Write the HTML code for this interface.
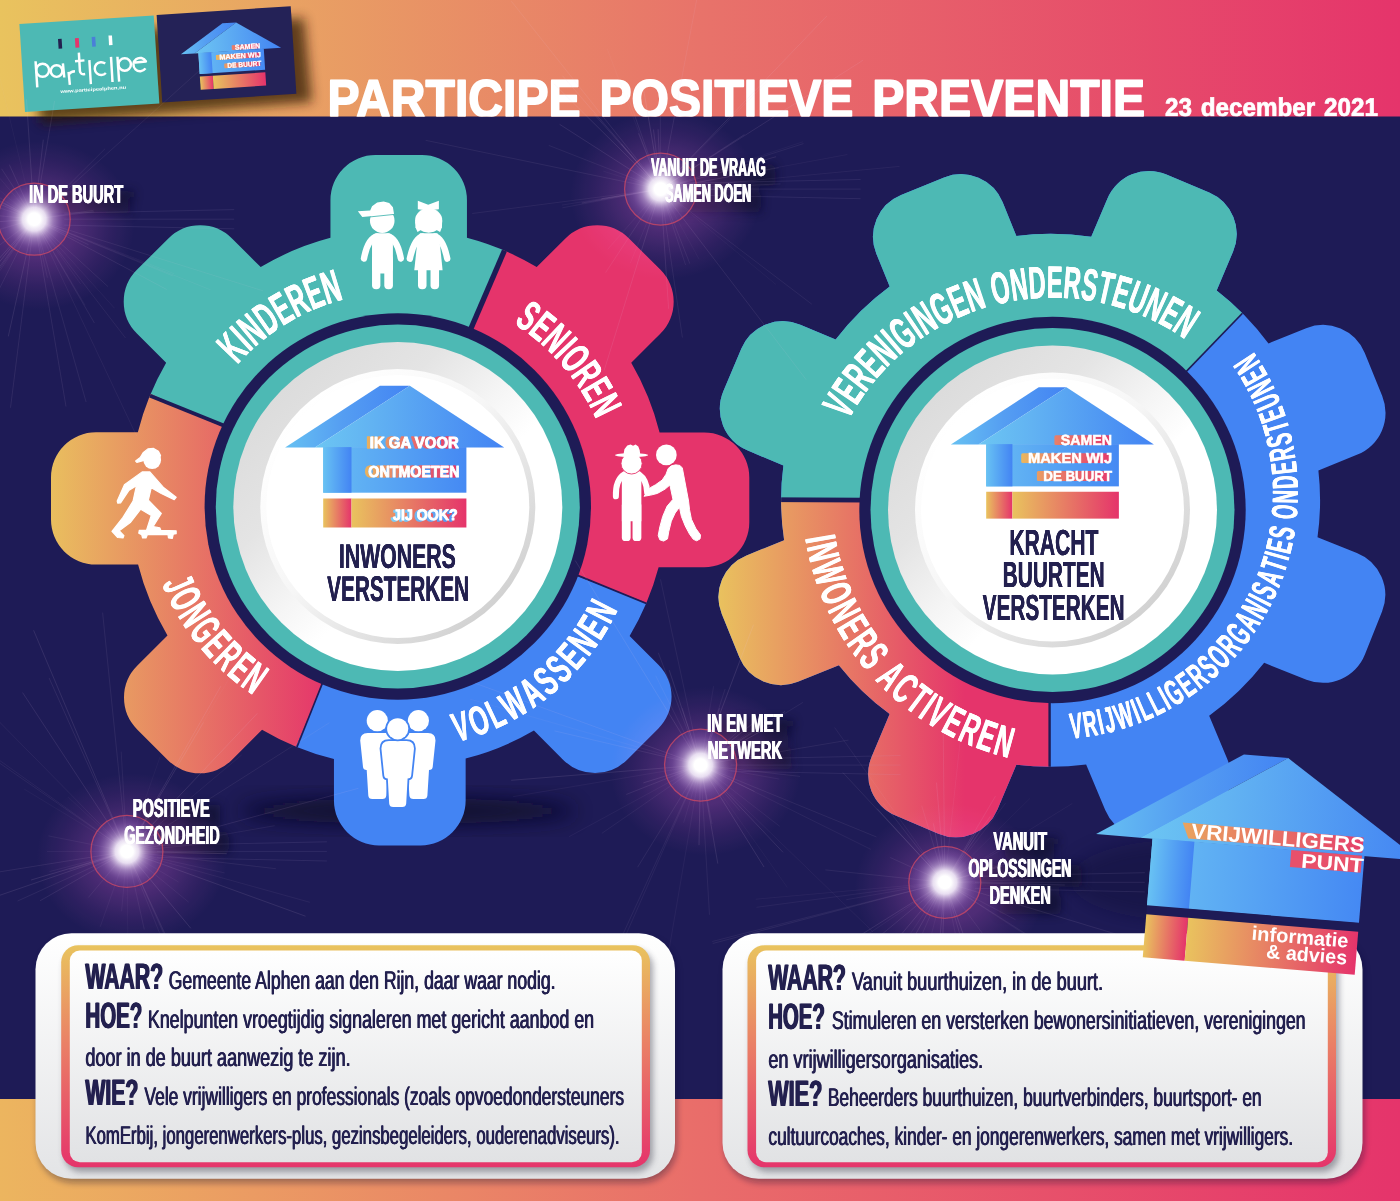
<!DOCTYPE html>
<html><head><meta charset="utf-8"><title>Participe Positieve Preventie</title>
<style>
html,body{margin:0;padding:0;background:#1e1b56;overflow:hidden;width:1400px;height:1201px;}
svg{display:block;font-family:"Liberation Sans",sans-serif;text-rendering:geometricPrecision;}
</style></head><body>
<svg width="1400" height="1201" viewBox="0 0 1400 1201">
<g opacity="0.999">
<defs>
<linearGradient id="gHead" x1="0" x2="1400" y1="0" y2="0" gradientUnits="userSpaceOnUse"><stop offset="0" stop-color="#e9c35e"/><stop offset="0.5" stop-color="#e8736a"/><stop offset="1" stop-color="#e5346b"/></linearGradient>
<linearGradient id="gYP" x1="0" x2="1" y1="0" y2="0"><stop offset="0" stop-color="#e9c35e"/><stop offset="1" stop-color="#e5346b"/></linearGradient>
<linearGradient id="gYPv" x1="0" x2="0" y1="0" y2="1"><stop offset="0" stop-color="#e9c35e"/><stop offset="0.45" stop-color="#ea7f66"/><stop offset="1" stop-color="#e5346b"/></linearGradient>
<linearGradient id="gSegL" x1="42" x2="328" y1="0" y2="0" gradientUnits="userSpaceOnUse"><stop offset="0" stop-color="#e9c35e"/><stop offset="1" stop-color="#e5346b"/></linearGradient>
<linearGradient id="gSegR" x1="716" x2="965" y1="0" y2="0" gradientUnits="userSpaceOnUse"><stop offset="0" stop-color="#e9c35e"/><stop offset="1" stop-color="#e5346b"/></linearGradient>
<linearGradient id="gBlue" x1="0" x2="1" y1="0" y2="0"><stop offset="0" stop-color="#6cc4f3"/><stop offset="1" stop-color="#4384f3"/></linearGradient>
<linearGradient id="gBlueB" x1="0" x2="1" y1="0" y2="0"><stop offset="0" stop-color="#66bdf3"/><stop offset="0.25" stop-color="#64b6f2"/><stop offset="1" stop-color="#4585f3"/></linearGradient>
<linearGradient id="gBev1" x1="0.15" y1="0.15" x2="0.85" y2="0.85"><stop offset="0" stop-color="#dcdcdc"/><stop offset="0.25" stop-color="#e4e4e4"/><stop offset="0.47" stop-color="#f5f5f5"/><stop offset="0.62" stop-color="#ffffff"/></linearGradient>
<linearGradient id="gBev2" x1="0.15" y1="0.15" x2="0.85" y2="0.85"><stop offset="0" stop-color="#ffffff"/><stop offset="0.45" stop-color="#f6f6f6"/><stop offset="1" stop-color="#d2d2d2"/></linearGradient>
<linearGradient id="gBoxO" x1="0" x2="0" y1="0" y2="1"><stop offset="0" stop-color="#ffffff"/><stop offset="1" stop-color="#e3e4e6"/></linearGradient>
<linearGradient id="gBoxI" x1="0" x2="0" y1="0" y2="1"><stop offset="0" stop-color="#ffffff"/><stop offset="1" stop-color="#e1e2e4"/></linearGradient>
<radialGradient id="gHaze"><stop offset="0" stop-color="#4a1a40" stop-opacity="1"/><stop offset="0.4" stop-color="#44183c" stop-opacity="0.8"/><stop offset="0.75" stop-color="#401536" stop-opacity="0.3"/><stop offset="1" stop-color="#401536" stop-opacity="0"/></radialGradient>
<radialGradient id="gGlow"><stop offset="0" stop-color="#fff" stop-opacity="1"/><stop offset="0.17" stop-color="#fff" stop-opacity="1"/><stop offset="0.32" stop-color="#f6effc" stop-opacity="0.9"/><stop offset="0.52" stop-color="#cdb3e4" stop-opacity="0.55"/><stop offset="0.78" stop-color="#9a70c4" stop-opacity="0.22"/><stop offset="1" stop-color="#8a60b8" stop-opacity="0"/></radialGradient>
<filter id="fBlur3" x="-50%" y="-50%" width="200%" height="200%"><feGaussianBlur stdDeviation="3"/></filter>
<filter id="fBlur6" x="-100%" y="-300%" width="300%" height="700%"><feGaussianBlur stdDeviation="6"/></filter>
<filter id="fBlur4" x="-50%" y="-150%" width="200%" height="400%"><feGaussianBlur stdDeviation="5"/></filter>
<filter id="fBlur10" x="-50%" y="-50%" width="200%" height="200%"><feGaussianBlur stdDeviation="10"/></filter>
<filter id="fBlur05" x="-20%" y="-20%" width="140%" height="140%"><feGaussianBlur stdDeviation="0.4"/></filter>
<clipPath id="clipL"><ellipse cx="398.7" cy="498.0" rx="269.0" ry="269.0"/>
<rect x="331.00" y="149.60" width="134.8" height="200.60" rx="45" ry="45" transform="rotate(90.00 398.7 500.2)"/>
<rect x="331.45" y="152.20" width="134.5" height="198.00" rx="45" ry="45" transform="rotate(45.00 398.7 500.2)"/>
<rect x="330.45" y="155.00" width="136.5" height="195.20" rx="45" ry="45" transform="rotate(0.00 398.7 500.2)"/>
<rect x="331.45" y="152.20" width="134.5" height="198.00" rx="45" ry="45" transform="rotate(-45.00 398.7 500.2)"/>
<rect x="334.30" y="152.50" width="132.3" height="197.70" rx="45" ry="45" transform="rotate(-90.00 398.7 500.2)"/>
<rect x="333.05" y="153.20" width="133.5" height="197.00" rx="45" ry="45" transform="rotate(-135.00 398.7 500.2)"/>
<rect x="331.75" y="155.00" width="131.7" height="195.20" rx="45" ry="45" transform="rotate(-180.00 398.7 500.2)"/>
<rect x="331.45" y="155.20" width="134.5" height="195.00" rx="45" ry="45" transform="rotate(-225.00 398.7 500.2)"/>
</clipPath>
<clipPath id="clipR"><ellipse cx="1050.6" cy="500.3" rx="269.5" ry="266.5"/>
<rect x="983.80" y="158.00" width="136.4" height="197.00" rx="45" ry="45" transform="rotate(67.90 1052.0 505.0)"/>
<rect x="983.80" y="156.00" width="136.4" height="199.00" rx="45" ry="45" transform="rotate(22.90 1052.0 505.0)"/>
<rect x="983.80" y="161.00" width="136.4" height="194.00" rx="45" ry="45" transform="rotate(-22.10 1052.0 505.0)"/>
<rect x="983.80" y="158.00" width="136.4" height="197.00" rx="45" ry="45" transform="rotate(-67.10 1052.0 505.0)"/>
<rect x="983.80" y="158.00" width="136.4" height="197.00" rx="45" ry="45" transform="rotate(-112.10 1052.0 505.0)"/>
<rect x="983.80" y="158.00" width="136.4" height="197.00" rx="45" ry="45" transform="rotate(-157.10 1052.0 505.0)"/>
<rect x="988.35" y="158.00" width="132.3" height="197.00" rx="45" ry="45" transform="rotate(-202.70 1052.0 505.0)"/>
<rect x="983.80" y="159.00" width="136.4" height="196.00" rx="45" ry="45" transform="rotate(-248.30 1052.0 505.0)"/>
</clipPath>
<linearGradient id="gFoot" x1="0" x2="1400" y1="0" y2="0" gradientUnits="userSpaceOnUse"><stop offset="0" stop-color="#ecb55f"/><stop offset="0.5" stop-color="#e96d6a"/><stop offset="1" stop-color="#e5346b"/></linearGradient>
</defs>
<rect x="0" y="0" width="1400" height="1201" fill="#1e1b56"/>
<rect x="0" y="0" width="1400" height="116.5" fill="url(#gHead)"/>
<rect x="0" y="1099" width="1400" height="102" fill="url(#gFoot)"/>
<clipPath id="clipHead"><rect x="0" y="0" width="1400" height="116.5"/></clipPath>
<g clip-path="url(#clipHead)">
<text x="327.50" y="116.60" font-size="53.20" font-weight="bold" fill="#fff" textLength="817.50" lengthAdjust="spacingAndGlyphs" stroke="#fff" stroke-width="1.7" stroke-linejoin="round" style="word-spacing:6px">PARTICIPE POSITIEVE PREVENTIE</text>
<text x="1165.10" y="116.40" font-size="25.58" font-weight="bold" fill="#fff" textLength="212.80" lengthAdjust="spacingAndGlyphs" stroke="#fff" stroke-width="0.7" style="word-spacing:2px">23 december 2021</text>
</g>
<g filter="url(#fBlur6)" opacity="0.72"><polygon points="34,38 304,18 312,102 40,124" fill="#2a1206"/></g>
<g transform="translate(19.4,24) rotate(-3.65)">
<rect x="0" y="0" width="134.6" height="88.2" fill="#4db9b4"/>
<text x="36.5" y="71.5" font-size="4.6" fill="#fff" font-weight="bold" textLength="66" lengthAdjust="spacingAndGlyphs">www.participealphen.nu</text>
</g>
<g transform="translate(15,10) scale(0.107143)" fill="none" stroke="#fff" stroke-width="23" stroke-linecap="butt" stroke-linejoin="round">
<rect x="404" y="270" width="34" height="90" fill="#23204f" stroke="none" transform="rotate(-3.6 421 315)"/>
<rect x="562" y="262" width="36" height="90" fill="#e5346b" stroke="none" transform="rotate(-3.6 580 307)"/>
<rect x="718" y="251" width="34" height="90" fill="#4a7fd8" stroke="none" transform="rotate(-3.6 735 296)"/>
<rect x="875" y="238" width="33" height="90" fill="#ffffff" stroke="none" transform="rotate(-3.6 891 283)"/>
<path d="M192,478 L208,722"/>
<circle cx="258" cy="562" r="60"/>
<circle cx="388" cy="570" r="54"/>
<path d="M447,498 L460,630"/>
<path d="M500,578 L512,698"/>
<path d="M503,600 Q520,575 560,572"/>
<path d="M596,398 L606,570 Q610,605 655,598"/>
<path d="M560,478 L648,470"/>
<path d="M694,468 L708,692"/>
<path d="M842,500 A60,60 0 1 0 848,588"/>
<path d="M896,438 L910,672"/>
<path d="M956,436 L972,668"/>
<circle cx="1024" cy="508" r="58"/>
<path d="M1100,492 L1222,480 A62,62 0 1 0 1218,545"/>
</g>
<g transform="translate(156.6,14.9) rotate(-3.7)">
<rect x="0" y="0" width="134.4" height="87.8" fill="#242257"/>
</g>
<ellipse cx="408" cy="811" rx="168" ry="13" fill="#0a0828" opacity="0.85" filter="url(#fBlur10)"/>
<ellipse cx="1180" cy="880" rx="110" ry="40" fill="#0e0b30" opacity="0.35" filter="url(#fBlur10)"/>
<g clip-path="url(#clipL)">
<path d="M397.80,506.50 L557.38,118.00 A420,420 0 0 0 15.62,332.33 Z" fill="#4db9b4"/>
<path d="M397.80,506.50 L15.62,332.33 A420,420 0 0 0 234.03,893.26 Z" fill="url(#gSegL)"/>
<path d="M397.80,506.50 L234.03,893.26 A420,420 0 0 0 789.51,658.04 Z" fill="#4384f3"/>
<path d="M397.80,506.50 L789.51,658.04 A420,420 0 0 0 557.38,118.00 Z" fill="#e5346b"/>
<line x1="423.6" y1="438.6" x2="542.1" y2="163.0" stroke="#1e1b56" stroke-width="5.3"/>
<line x1="131.5" y1="388.2" x2="237.4" y2="431.1" stroke="#1e1b56" stroke-width="3.8"/>
<line x1="325.2" y1="676.1" x2="285.0" y2="777.2" stroke="#1e1b56" stroke-width="1.6"/>
<line x1="571.5" y1="572.8" x2="666.0" y2="611.5" stroke="#1e1b56" stroke-width="1.8"/>
</g>
<circle cx="397.8" cy="506.5" r="193.2" fill="#1e1b56"/>
<circle cx="397.8" cy="506.5" r="182" fill="#4db9b4"/>
<circle cx="397.8" cy="506.5" r="164.5" fill="url(#gBev1)"/>
<circle cx="397.8" cy="506.5" r="137.5" fill="url(#gBev2)"/>
<circle cx="397.8" cy="506.5" r="131.5" fill="#ffffff"/>
<g clip-path="url(#clipR)">
<rect x="600" y="0" width="900" height="1000" fill="#4384f3"/>
<polygon points="1049.6,499.7 600,499.7 600,0 1413.7,0 1413.7,135.9 1052.5,510.0" fill="#4db9b4"/>
<polygon points="1049.6,499.7 600,499.7 600,1000 1049.6,1000" fill="url(#gSegR)"/>
<line x1="1156.70" y1="402.10" x2="1344.26" y2="207.88" stroke="#1e1b56" stroke-width="1.6"/>
<line x1="700" y1="499.4" x2="1052.5" y2="501.0" stroke="#1e1b56" stroke-width="4.8"/>
<line x1="1049.6" y1="510.0" x2="1049.6" y2="900" stroke="#1e1b56" stroke-width="2.4"/>
</g>
<circle cx="1052.5" cy="510.0" r="193.2" fill="#1e1b56"/>
<circle cx="1052.5" cy="510.0" r="182" fill="#4db9b4"/>
<circle cx="1052.5" cy="510.0" r="164.5" fill="url(#gBev1)"/>
<circle cx="1052.5" cy="510.0" r="137.5" fill="url(#gBev2)"/>
<circle cx="1052.5" cy="510.0" r="131.5" fill="#ffffff"/>
<text transform="translate(243.17,358.56) rotate(-46.27) scale(0.5262,1)" x="-0.57" font-size="45.78" font-weight="bold" text-anchor="middle" fill="#fff">K</text>
<text transform="translate(243.17,358.56) rotate(-46.27) scale(0.5262,1)" x="0.00" font-size="45.78" font-weight="bold" text-anchor="middle" fill="#fff">K</text>
<text transform="translate(243.17,358.56) rotate(-46.27) scale(0.5262,1)" x="0.57" font-size="45.78" font-weight="bold" text-anchor="middle" fill="#fff">K</text>
<text transform="translate(252.03,349.82) rotate(-42.93) scale(0.5262,1)" x="-0.57" font-size="45.78" font-weight="bold" text-anchor="middle" fill="#fff">I</text>
<text transform="translate(252.03,349.82) rotate(-42.93) scale(0.5262,1)" x="0.00" font-size="45.78" font-weight="bold" text-anchor="middle" fill="#fff">I</text>
<text transform="translate(252.03,349.82) rotate(-42.93) scale(0.5262,1)" x="0.57" font-size="45.78" font-weight="bold" text-anchor="middle" fill="#fff">I</text>
<text transform="translate(261.38,341.62) rotate(-39.60) scale(0.5262,1)" x="-0.57" font-size="45.78" font-weight="bold" text-anchor="middle" fill="#fff">N</text>
<text transform="translate(261.38,341.62) rotate(-39.60) scale(0.5262,1)" x="0.00" font-size="45.78" font-weight="bold" text-anchor="middle" fill="#fff">N</text>
<text transform="translate(261.38,341.62) rotate(-39.60) scale(0.5262,1)" x="0.57" font-size="45.78" font-weight="bold" text-anchor="middle" fill="#fff">N</text>
<text transform="translate(275.25,331.07) rotate(-34.94) scale(0.5262,1)" x="-0.57" font-size="45.78" font-weight="bold" text-anchor="middle" fill="#fff">D</text>
<text transform="translate(275.25,331.07) rotate(-34.94) scale(0.5262,1)" x="0.00" font-size="45.78" font-weight="bold" text-anchor="middle" fill="#fff">D</text>
<text transform="translate(275.25,331.07) rotate(-34.94) scale(0.5262,1)" x="0.57" font-size="45.78" font-weight="bold" text-anchor="middle" fill="#fff">D</text>
<text transform="translate(289.39,321.99) rotate(-30.44) scale(0.5262,1)" x="-0.57" font-size="45.78" font-weight="bold" text-anchor="middle" fill="#fff">E</text>
<text transform="translate(289.39,321.99) rotate(-30.44) scale(0.5262,1)" x="0.00" font-size="45.78" font-weight="bold" text-anchor="middle" fill="#fff">E</text>
<text transform="translate(289.39,321.99) rotate(-30.44) scale(0.5262,1)" x="0.57" font-size="45.78" font-weight="bold" text-anchor="middle" fill="#fff">E</text>
<text transform="translate(304.21,314.05) rotate(-25.93) scale(0.5262,1)" x="-0.57" font-size="45.78" font-weight="bold" text-anchor="middle" fill="#fff">R</text>
<text transform="translate(304.21,314.05) rotate(-25.93) scale(0.5262,1)" x="0.00" font-size="45.78" font-weight="bold" text-anchor="middle" fill="#fff">R</text>
<text transform="translate(304.21,314.05) rotate(-25.93) scale(0.5262,1)" x="0.57" font-size="45.78" font-weight="bold" text-anchor="middle" fill="#fff">R</text>
<text transform="translate(319.60,307.30) rotate(-21.43) scale(0.5262,1)" x="-0.57" font-size="45.78" font-weight="bold" text-anchor="middle" fill="#fff">E</text>
<text transform="translate(319.60,307.30) rotate(-21.43) scale(0.5262,1)" x="0.00" font-size="45.78" font-weight="bold" text-anchor="middle" fill="#fff">E</text>
<text transform="translate(319.60,307.30) rotate(-21.43) scale(0.5262,1)" x="0.57" font-size="45.78" font-weight="bold" text-anchor="middle" fill="#fff">E</text>
<text transform="translate(335.47,301.78) rotate(-16.93) scale(0.5262,1)" x="-0.57" font-size="45.78" font-weight="bold" text-anchor="middle" fill="#fff">N</text>
<text transform="translate(335.47,301.78) rotate(-16.93) scale(0.5262,1)" x="0.00" font-size="45.78" font-weight="bold" text-anchor="middle" fill="#fff">N</text>
<text transform="translate(335.47,301.78) rotate(-16.93) scale(0.5262,1)" x="0.57" font-size="45.78" font-weight="bold" text-anchor="middle" fill="#fff">N</text>
<text transform="translate(520.32,328.01) rotate(34.47) scale(0.5625,1)" x="-0.53" font-size="42.88" font-weight="bold" text-anchor="middle" fill="#fff">S</text>
<text transform="translate(520.32,328.01) rotate(34.47) scale(0.5625,1)" x="0.00" font-size="42.88" font-weight="bold" text-anchor="middle" fill="#fff">S</text>
<text transform="translate(520.32,328.01) rotate(34.47) scale(0.5625,1)" x="0.53" font-size="42.88" font-weight="bold" text-anchor="middle" fill="#fff">S</text>
<text transform="translate(533.46,337.78) rotate(38.80) scale(0.5625,1)" x="-0.53" font-size="42.88" font-weight="bold" text-anchor="middle" fill="#fff">E</text>
<text transform="translate(533.46,337.78) rotate(38.80) scale(0.5625,1)" x="0.00" font-size="42.88" font-weight="bold" text-anchor="middle" fill="#fff">E</text>
<text transform="translate(533.46,337.78) rotate(38.80) scale(0.5625,1)" x="0.53" font-size="42.88" font-weight="bold" text-anchor="middle" fill="#fff">E</text>
<text transform="translate(546.28,348.94) rotate(43.30) scale(0.5625,1)" x="-0.53" font-size="42.88" font-weight="bold" text-anchor="middle" fill="#fff">N</text>
<text transform="translate(546.28,348.94) rotate(43.30) scale(0.5625,1)" x="0.00" font-size="42.88" font-weight="bold" text-anchor="middle" fill="#fff">N</text>
<text transform="translate(546.28,348.94) rotate(43.30) scale(0.5625,1)" x="0.53" font-size="42.88" font-weight="bold" text-anchor="middle" fill="#fff">N</text>
<text transform="translate(555.20,357.85) rotate(46.64) scale(0.5625,1)" x="-0.53" font-size="42.88" font-weight="bold" text-anchor="middle" fill="#fff">I</text>
<text transform="translate(555.20,357.85) rotate(46.64) scale(0.5625,1)" x="0.00" font-size="42.88" font-weight="bold" text-anchor="middle" fill="#fff">I</text>
<text transform="translate(555.20,357.85) rotate(46.64) scale(0.5625,1)" x="0.53" font-size="42.88" font-weight="bold" text-anchor="middle" fill="#fff">I</text>
<text transform="translate(563.99,367.74) rotate(50.14) scale(0.5625,1)" x="-0.53" font-size="42.88" font-weight="bold" text-anchor="middle" fill="#fff">O</text>
<text transform="translate(563.99,367.74) rotate(50.14) scale(0.5625,1)" x="0.00" font-size="42.88" font-weight="bold" text-anchor="middle" fill="#fff">O</text>
<text transform="translate(563.99,367.74) rotate(50.14) scale(0.5625,1)" x="0.53" font-size="42.88" font-weight="bold" text-anchor="middle" fill="#fff">O</text>
<text transform="translate(575.08,382.23) rotate(54.97) scale(0.5625,1)" x="-0.53" font-size="42.88" font-weight="bold" text-anchor="middle" fill="#fff">R</text>
<text transform="translate(575.08,382.23) rotate(54.97) scale(0.5625,1)" x="0.00" font-size="42.88" font-weight="bold" text-anchor="middle" fill="#fff">R</text>
<text transform="translate(575.08,382.23) rotate(54.97) scale(0.5625,1)" x="0.53" font-size="42.88" font-weight="bold" text-anchor="middle" fill="#fff">R</text>
<text transform="translate(584.28,396.52) rotate(59.47) scale(0.5625,1)" x="-0.53" font-size="42.88" font-weight="bold" text-anchor="middle" fill="#fff">E</text>
<text transform="translate(584.28,396.52) rotate(59.47) scale(0.5625,1)" x="0.00" font-size="42.88" font-weight="bold" text-anchor="middle" fill="#fff">E</text>
<text transform="translate(584.28,396.52) rotate(59.47) scale(0.5625,1)" x="0.53" font-size="42.88" font-weight="bold" text-anchor="middle" fill="#fff">E</text>
<text transform="translate(592.34,411.48) rotate(63.97) scale(0.5625,1)" x="-0.53" font-size="42.88" font-weight="bold" text-anchor="middle" fill="#fff">N</text>
<text transform="translate(592.34,411.48) rotate(63.97) scale(0.5625,1)" x="0.00" font-size="42.88" font-weight="bold" text-anchor="middle" fill="#fff">N</text>
<text transform="translate(592.34,411.48) rotate(63.97) scale(0.5625,1)" x="0.53" font-size="42.88" font-weight="bold" text-anchor="middle" fill="#fff">N</text>
<text transform="translate(164.34,589.82) rotate(66.24) scale(0.5172,1)" x="-0.58" font-size="44.33" font-weight="bold" text-anchor="middle" fill="#fff">J</text>
<text transform="translate(164.34,589.82) rotate(66.24) scale(0.5172,1)" x="0.00" font-size="44.33" font-weight="bold" text-anchor="middle" fill="#fff">J</text>
<text transform="translate(164.34,589.82) rotate(66.24) scale(0.5172,1)" x="0.58" font-size="44.33" font-weight="bold" text-anchor="middle" fill="#fff">J</text>
<text transform="translate(172.06,605.74) rotate(62.07) scale(0.5172,1)" x="-0.58" font-size="44.33" font-weight="bold" text-anchor="middle" fill="#fff">O</text>
<text transform="translate(172.06,605.74) rotate(62.07) scale(0.5172,1)" x="0.00" font-size="44.33" font-weight="bold" text-anchor="middle" fill="#fff">O</text>
<text transform="translate(172.06,605.74) rotate(62.07) scale(0.5172,1)" x="0.58" font-size="44.33" font-weight="bold" text-anchor="middle" fill="#fff">O</text>
<text transform="translate(181.99,622.78) rotate(57.43) scale(0.5172,1)" x="-0.58" font-size="44.33" font-weight="bold" text-anchor="middle" fill="#fff">N</text>
<text transform="translate(181.99,622.78) rotate(57.43) scale(0.5172,1)" x="0.00" font-size="44.33" font-weight="bold" text-anchor="middle" fill="#fff">N</text>
<text transform="translate(181.99,622.78) rotate(57.43) scale(0.5172,1)" x="0.58" font-size="44.33" font-weight="bold" text-anchor="middle" fill="#fff">N</text>
<text transform="translate(193.27,638.95) rotate(52.79) scale(0.5172,1)" x="-0.58" font-size="44.33" font-weight="bold" text-anchor="middle" fill="#fff">G</text>
<text transform="translate(193.27,638.95) rotate(52.79) scale(0.5172,1)" x="0.00" font-size="44.33" font-weight="bold" text-anchor="middle" fill="#fff">G</text>
<text transform="translate(193.27,638.95) rotate(52.79) scale(0.5172,1)" x="0.58" font-size="44.33" font-weight="bold" text-anchor="middle" fill="#fff">G</text>
<text transform="translate(205.37,653.66) rotate(48.31) scale(0.5172,1)" x="-0.58" font-size="44.33" font-weight="bold" text-anchor="middle" fill="#fff">E</text>
<text transform="translate(205.37,653.66) rotate(48.31) scale(0.5172,1)" x="0.00" font-size="44.33" font-weight="bold" text-anchor="middle" fill="#fff">E</text>
<text transform="translate(205.37,653.66) rotate(48.31) scale(0.5172,1)" x="0.58" font-size="44.33" font-weight="bold" text-anchor="middle" fill="#fff">E</text>
<text transform="translate(218.09,666.90) rotate(43.99) scale(0.5172,1)" x="-0.58" font-size="44.33" font-weight="bold" text-anchor="middle" fill="#fff">R</text>
<text transform="translate(218.09,666.90) rotate(43.99) scale(0.5172,1)" x="0.00" font-size="44.33" font-weight="bold" text-anchor="middle" fill="#fff">R</text>
<text transform="translate(218.09,666.90) rotate(43.99) scale(0.5172,1)" x="0.58" font-size="44.33" font-weight="bold" text-anchor="middle" fill="#fff">R</text>
<text transform="translate(231.78,679.15) rotate(39.66) scale(0.5172,1)" x="-0.58" font-size="44.33" font-weight="bold" text-anchor="middle" fill="#fff">E</text>
<text transform="translate(231.78,679.15) rotate(39.66) scale(0.5172,1)" x="0.00" font-size="44.33" font-weight="bold" text-anchor="middle" fill="#fff">E</text>
<text transform="translate(231.78,679.15) rotate(39.66) scale(0.5172,1)" x="0.58" font-size="44.33" font-weight="bold" text-anchor="middle" fill="#fff">E</text>
<text transform="translate(246.35,690.33) rotate(35.34) scale(0.5172,1)" x="-0.58" font-size="44.33" font-weight="bold" text-anchor="middle" fill="#fff">N</text>
<text transform="translate(246.35,690.33) rotate(35.34) scale(0.5172,1)" x="0.00" font-size="44.33" font-weight="bold" text-anchor="middle" fill="#fff">N</text>
<text transform="translate(246.35,690.33) rotate(35.34) scale(0.5172,1)" x="0.58" font-size="44.33" font-weight="bold" text-anchor="middle" fill="#fff">N</text>
<text transform="translate(464.78,740.09) rotate(-16.00) scale(0.5830,1)" x="-0.51" font-size="41.42" font-weight="bold" text-anchor="middle" fill="#fff">V</text>
<text transform="translate(464.78,740.09) rotate(-16.00) scale(0.5830,1)" x="0.00" font-size="41.42" font-weight="bold" text-anchor="middle" fill="#fff">V</text>
<text transform="translate(464.78,740.09) rotate(-16.00) scale(0.5830,1)" x="0.51" font-size="41.42" font-weight="bold" text-anchor="middle" fill="#fff">V</text>
<text transform="translate(483.83,733.76) rotate(-20.73) scale(0.5830,1)" x="-0.51" font-size="41.42" font-weight="bold" text-anchor="middle" fill="#fff">O</text>
<text transform="translate(483.83,733.76) rotate(-20.73) scale(0.5830,1)" x="0.00" font-size="41.42" font-weight="bold" text-anchor="middle" fill="#fff">O</text>
<text transform="translate(483.83,733.76) rotate(-20.73) scale(0.5830,1)" x="0.51" font-size="41.42" font-weight="bold" text-anchor="middle" fill="#fff">O</text>
<text transform="translate(501.64,726.19) rotate(-25.30) scale(0.5830,1)" x="-0.51" font-size="41.42" font-weight="bold" text-anchor="middle" fill="#fff">L</text>
<text transform="translate(501.64,726.19) rotate(-25.30) scale(0.5830,1)" x="0.00" font-size="41.42" font-weight="bold" text-anchor="middle" fill="#fff">L</text>
<text transform="translate(501.64,726.19) rotate(-25.30) scale(0.5830,1)" x="0.51" font-size="41.42" font-weight="bold" text-anchor="middle" fill="#fff">L</text>
<text transform="translate(520.64,716.16) rotate(-30.37) scale(0.5830,1)" x="-0.51" font-size="41.42" font-weight="bold" text-anchor="middle" fill="#fff">W</text>
<text transform="translate(520.64,716.16) rotate(-30.37) scale(0.5830,1)" x="0.00" font-size="41.42" font-weight="bold" text-anchor="middle" fill="#fff">W</text>
<text transform="translate(520.64,716.16) rotate(-30.37) scale(0.5830,1)" x="0.51" font-size="41.42" font-weight="bold" text-anchor="middle" fill="#fff">W</text>
<text transform="translate(539.84,703.66) rotate(-35.77) scale(0.5830,1)" x="-0.51" font-size="41.42" font-weight="bold" text-anchor="middle" fill="#fff">A</text>
<text transform="translate(539.84,703.66) rotate(-35.77) scale(0.5830,1)" x="0.00" font-size="41.42" font-weight="bold" text-anchor="middle" fill="#fff">A</text>
<text transform="translate(539.84,703.66) rotate(-35.77) scale(0.5830,1)" x="0.51" font-size="41.42" font-weight="bold" text-anchor="middle" fill="#fff">A</text>
<text transform="translate(555.09,691.73) rotate(-40.34) scale(0.5830,1)" x="-0.51" font-size="41.42" font-weight="bold" text-anchor="middle" fill="#fff">S</text>
<text transform="translate(555.09,691.73) rotate(-40.34) scale(0.5830,1)" x="0.00" font-size="41.42" font-weight="bold" text-anchor="middle" fill="#fff">S</text>
<text transform="translate(555.09,691.73) rotate(-40.34) scale(0.5830,1)" x="0.51" font-size="41.42" font-weight="bold" text-anchor="middle" fill="#fff">S</text>
<text transform="translate(568.83,679.12) rotate(-44.74) scale(0.5830,1)" x="-0.51" font-size="41.42" font-weight="bold" text-anchor="middle" fill="#fff">S</text>
<text transform="translate(568.83,679.12) rotate(-44.74) scale(0.5830,1)" x="0.00" font-size="41.42" font-weight="bold" text-anchor="middle" fill="#fff">S</text>
<text transform="translate(568.83,679.12) rotate(-44.74) scale(0.5830,1)" x="0.51" font-size="41.42" font-weight="bold" text-anchor="middle" fill="#fff">S</text>
<text transform="translate(581.57,665.49) rotate(-49.13) scale(0.5830,1)" x="-0.51" font-size="41.42" font-weight="bold" text-anchor="middle" fill="#fff">E</text>
<text transform="translate(581.57,665.49) rotate(-49.13) scale(0.5830,1)" x="0.00" font-size="41.42" font-weight="bold" text-anchor="middle" fill="#fff">E</text>
<text transform="translate(581.57,665.49) rotate(-49.13) scale(0.5830,1)" x="0.51" font-size="41.42" font-weight="bold" text-anchor="middle" fill="#fff">E</text>
<text transform="translate(593.64,650.36) rotate(-53.70) scale(0.5830,1)" x="-0.51" font-size="41.42" font-weight="bold" text-anchor="middle" fill="#fff">N</text>
<text transform="translate(593.64,650.36) rotate(-53.70) scale(0.5830,1)" x="0.00" font-size="41.42" font-weight="bold" text-anchor="middle" fill="#fff">N</text>
<text transform="translate(593.64,650.36) rotate(-53.70) scale(0.5830,1)" x="0.51" font-size="41.42" font-weight="bold" text-anchor="middle" fill="#fff">N</text>
<text transform="translate(604.47,634.31) rotate(-58.27) scale(0.5830,1)" x="-0.51" font-size="41.42" font-weight="bold" text-anchor="middle" fill="#fff">E</text>
<text transform="translate(604.47,634.31) rotate(-58.27) scale(0.5830,1)" x="0.00" font-size="41.42" font-weight="bold" text-anchor="middle" fill="#fff">E</text>
<text transform="translate(604.47,634.31) rotate(-58.27) scale(0.5830,1)" x="0.51" font-size="41.42" font-weight="bold" text-anchor="middle" fill="#fff">E</text>
<text transform="translate(613.99,617.45) rotate(-62.83) scale(0.5830,1)" x="-0.51" font-size="41.42" font-weight="bold" text-anchor="middle" fill="#fff">N</text>
<text transform="translate(613.99,617.45) rotate(-62.83) scale(0.5830,1)" x="0.00" font-size="41.42" font-weight="bold" text-anchor="middle" fill="#fff">N</text>
<text transform="translate(613.99,617.45) rotate(-62.83) scale(0.5830,1)" x="0.51" font-size="41.42" font-weight="bold" text-anchor="middle" fill="#fff">N</text>
<text transform="translate(852.33,413.38) rotate(-60.02) scale(0.5201,1)" x="-0.58" font-size="45.35" font-weight="bold" text-anchor="middle" fill="#fff">V</text>
<text transform="translate(852.33,413.38) rotate(-60.02) scale(0.5201,1)" x="0.00" font-size="45.35" font-weight="bold" text-anchor="middle" fill="#fff">V</text>
<text transform="translate(852.33,413.38) rotate(-60.02) scale(0.5201,1)" x="0.58" font-size="45.35" font-weight="bold" text-anchor="middle" fill="#fff">V</text>
<text transform="translate(860.77,399.84) rotate(-56.07) scale(0.5201,1)" x="-0.58" font-size="45.35" font-weight="bold" text-anchor="middle" fill="#fff">E</text>
<text transform="translate(860.77,399.84) rotate(-56.07) scale(0.5201,1)" x="0.00" font-size="45.35" font-weight="bold" text-anchor="middle" fill="#fff">E</text>
<text transform="translate(860.77,399.84) rotate(-56.07) scale(0.5201,1)" x="0.58" font-size="45.35" font-weight="bold" text-anchor="middle" fill="#fff">E</text>
<text transform="translate(870.50,386.44) rotate(-51.96) scale(0.5201,1)" x="-0.58" font-size="45.35" font-weight="bold" text-anchor="middle" fill="#fff">R</text>
<text transform="translate(870.50,386.44) rotate(-51.96) scale(0.5201,1)" x="0.00" font-size="45.35" font-weight="bold" text-anchor="middle" fill="#fff">R</text>
<text transform="translate(870.50,386.44) rotate(-51.96) scale(0.5201,1)" x="0.58" font-size="45.35" font-weight="bold" text-anchor="middle" fill="#fff">R</text>
<text transform="translate(881.17,373.77) rotate(-47.86) scale(0.5201,1)" x="-0.58" font-size="45.35" font-weight="bold" text-anchor="middle" fill="#fff">E</text>
<text transform="translate(881.17,373.77) rotate(-47.86) scale(0.5201,1)" x="0.00" font-size="45.35" font-weight="bold" text-anchor="middle" fill="#fff">E</text>
<text transform="translate(881.17,373.77) rotate(-47.86) scale(0.5201,1)" x="0.58" font-size="45.35" font-weight="bold" text-anchor="middle" fill="#fff">E</text>
<text transform="translate(892.72,361.90) rotate(-43.75) scale(0.5201,1)" x="-0.58" font-size="45.35" font-weight="bold" text-anchor="middle" fill="#fff">N</text>
<text transform="translate(892.72,361.90) rotate(-43.75) scale(0.5201,1)" x="0.00" font-size="45.35" font-weight="bold" text-anchor="middle" fill="#fff">N</text>
<text transform="translate(892.72,361.90) rotate(-43.75) scale(0.5201,1)" x="0.58" font-size="45.35" font-weight="bold" text-anchor="middle" fill="#fff">N</text>
<text transform="translate(901.80,353.65) rotate(-40.71) scale(0.5201,1)" x="-0.58" font-size="45.35" font-weight="bold" text-anchor="middle" fill="#fff">I</text>
<text transform="translate(901.80,353.65) rotate(-40.71) scale(0.5201,1)" x="0.00" font-size="45.35" font-weight="bold" text-anchor="middle" fill="#fff">I</text>
<text transform="translate(901.80,353.65) rotate(-40.71) scale(0.5201,1)" x="0.58" font-size="45.35" font-weight="bold" text-anchor="middle" fill="#fff">I</text>
<text transform="translate(911.79,345.53) rotate(-37.52) scale(0.5201,1)" x="-0.58" font-size="45.35" font-weight="bold" text-anchor="middle" fill="#fff">G</text>
<text transform="translate(911.79,345.53) rotate(-37.52) scale(0.5201,1)" x="0.00" font-size="45.35" font-weight="bold" text-anchor="middle" fill="#fff">G</text>
<text transform="translate(911.79,345.53) rotate(-37.52) scale(0.5201,1)" x="0.58" font-size="45.35" font-weight="bold" text-anchor="middle" fill="#fff">G</text>
<text transform="translate(922.22,337.97) rotate(-34.33) scale(0.5201,1)" x="-0.58" font-size="45.35" font-weight="bold" text-anchor="middle" fill="#fff">I</text>
<text transform="translate(922.22,337.97) rotate(-34.33) scale(0.5201,1)" x="0.00" font-size="45.35" font-weight="bold" text-anchor="middle" fill="#fff">I</text>
<text transform="translate(922.22,337.97) rotate(-34.33) scale(0.5201,1)" x="0.58" font-size="45.35" font-weight="bold" text-anchor="middle" fill="#fff">I</text>
<text transform="translate(932.53,331.32) rotate(-31.29) scale(0.5201,1)" x="-0.58" font-size="45.35" font-weight="bold" text-anchor="middle" fill="#fff">N</text>
<text transform="translate(932.53,331.32) rotate(-31.29) scale(0.5201,1)" x="0.00" font-size="45.35" font-weight="bold" text-anchor="middle" fill="#fff">N</text>
<text transform="translate(932.53,331.32) rotate(-31.29) scale(0.5201,1)" x="0.58" font-size="45.35" font-weight="bold" text-anchor="middle" fill="#fff">N</text>
<text transform="translate(948.07,322.68) rotate(-26.88) scale(0.5201,1)" x="-0.58" font-size="45.35" font-weight="bold" text-anchor="middle" fill="#fff">G</text>
<text transform="translate(948.07,322.68) rotate(-26.88) scale(0.5201,1)" x="0.00" font-size="45.35" font-weight="bold" text-anchor="middle" fill="#fff">G</text>
<text transform="translate(948.07,322.68) rotate(-26.88) scale(0.5201,1)" x="0.58" font-size="45.35" font-weight="bold" text-anchor="middle" fill="#fff">G</text>
<text transform="translate(963.67,315.49) rotate(-22.62) scale(0.5201,1)" x="-0.58" font-size="45.35" font-weight="bold" text-anchor="middle" fill="#fff">E</text>
<text transform="translate(963.67,315.49) rotate(-22.62) scale(0.5201,1)" x="0.00" font-size="45.35" font-weight="bold" text-anchor="middle" fill="#fff">E</text>
<text transform="translate(963.67,315.49) rotate(-22.62) scale(0.5201,1)" x="0.58" font-size="45.35" font-weight="bold" text-anchor="middle" fill="#fff">E</text>
<text transform="translate(979.18,309.67) rotate(-18.52) scale(0.5201,1)" x="-0.58" font-size="45.35" font-weight="bold" text-anchor="middle" fill="#fff">N</text>
<text transform="translate(979.18,309.67) rotate(-18.52) scale(0.5201,1)" x="0.00" font-size="45.35" font-weight="bold" text-anchor="middle" fill="#fff">N</text>
<text transform="translate(979.18,309.67) rotate(-18.52) scale(0.5201,1)" x="0.58" font-size="45.35" font-weight="bold" text-anchor="middle" fill="#fff">N</text>
<text transform="translate(1003.41,302.99) rotate(-12.28) scale(0.5201,1)" x="-0.58" font-size="45.35" font-weight="bold" text-anchor="middle" fill="#fff">O</text>
<text transform="translate(1003.41,302.99) rotate(-12.28) scale(0.5201,1)" x="0.00" font-size="45.35" font-weight="bold" text-anchor="middle" fill="#fff">O</text>
<text transform="translate(1003.41,302.99) rotate(-12.28) scale(0.5201,1)" x="0.58" font-size="45.35" font-weight="bold" text-anchor="middle" fill="#fff">O</text>
<text transform="translate(1020.92,299.88) rotate(-7.87) scale(0.5201,1)" x="-0.58" font-size="45.35" font-weight="bold" text-anchor="middle" fill="#fff">N</text>
<text transform="translate(1020.92,299.88) rotate(-7.87) scale(0.5201,1)" x="0.00" font-size="45.35" font-weight="bold" text-anchor="middle" fill="#fff">N</text>
<text transform="translate(1020.92,299.88) rotate(-7.87) scale(0.5201,1)" x="0.58" font-size="45.35" font-weight="bold" text-anchor="middle" fill="#fff">N</text>
<text transform="translate(1038.01,298.16) rotate(-3.62) scale(0.5201,1)" x="-0.58" font-size="45.35" font-weight="bold" text-anchor="middle" fill="#fff">D</text>
<text transform="translate(1038.01,298.16) rotate(-3.62) scale(0.5201,1)" x="0.00" font-size="45.35" font-weight="bold" text-anchor="middle" fill="#fff">D</text>
<text transform="translate(1038.01,298.16) rotate(-3.62) scale(0.5201,1)" x="0.58" font-size="45.35" font-weight="bold" text-anchor="middle" fill="#fff">D</text>
<text transform="translate(1054.57,297.71) rotate(0.49) scale(0.5201,1)" x="-0.58" font-size="45.35" font-weight="bold" text-anchor="middle" fill="#fff">E</text>
<text transform="translate(1054.57,297.71) rotate(0.49) scale(0.5201,1)" x="0.00" font-size="45.35" font-weight="bold" text-anchor="middle" fill="#fff">E</text>
<text transform="translate(1054.57,297.71) rotate(0.49) scale(0.5201,1)" x="0.58" font-size="45.35" font-weight="bold" text-anchor="middle" fill="#fff">E</text>
<text transform="translate(1071.11,298.44) rotate(4.59) scale(0.5201,1)" x="-0.58" font-size="45.35" font-weight="bold" text-anchor="middle" fill="#fff">R</text>
<text transform="translate(1071.11,298.44) rotate(4.59) scale(0.5201,1)" x="0.00" font-size="45.35" font-weight="bold" text-anchor="middle" fill="#fff">R</text>
<text transform="translate(1071.11,298.44) rotate(4.59) scale(0.5201,1)" x="0.58" font-size="45.35" font-weight="bold" text-anchor="middle" fill="#fff">R</text>
<text transform="translate(1087.56,300.36) rotate(8.70) scale(0.5201,1)" x="-0.58" font-size="45.35" font-weight="bold" text-anchor="middle" fill="#fff">S</text>
<text transform="translate(1087.56,300.36) rotate(8.70) scale(0.5201,1)" x="0.00" font-size="45.35" font-weight="bold" text-anchor="middle" fill="#fff">S</text>
<text transform="translate(1087.56,300.36) rotate(8.70) scale(0.5201,1)" x="0.58" font-size="45.35" font-weight="bold" text-anchor="middle" fill="#fff">S</text>
<text transform="translate(1102.63,303.18) rotate(12.50) scale(0.5201,1)" x="-0.58" font-size="45.35" font-weight="bold" text-anchor="middle" fill="#fff">T</text>
<text transform="translate(1102.63,303.18) rotate(12.50) scale(0.5201,1)" x="0.00" font-size="45.35" font-weight="bold" text-anchor="middle" fill="#fff">T</text>
<text transform="translate(1102.63,303.18) rotate(12.50) scale(0.5201,1)" x="0.58" font-size="45.35" font-weight="bold" text-anchor="middle" fill="#fff">T</text>
<text transform="translate(1117.49,306.99) rotate(16.30) scale(0.5201,1)" x="-0.58" font-size="45.35" font-weight="bold" text-anchor="middle" fill="#fff">E</text>
<text transform="translate(1117.49,306.99) rotate(16.30) scale(0.5201,1)" x="0.00" font-size="45.35" font-weight="bold" text-anchor="middle" fill="#fff">E</text>
<text transform="translate(1117.49,306.99) rotate(16.30) scale(0.5201,1)" x="0.58" font-size="45.35" font-weight="bold" text-anchor="middle" fill="#fff">E</text>
<text transform="translate(1133.21,312.21) rotate(20.40) scale(0.5201,1)" x="-0.58" font-size="45.35" font-weight="bold" text-anchor="middle" fill="#fff">U</text>
<text transform="translate(1133.21,312.21) rotate(20.40) scale(0.5201,1)" x="0.00" font-size="45.35" font-weight="bold" text-anchor="middle" fill="#fff">U</text>
<text transform="translate(1133.21,312.21) rotate(20.40) scale(0.5201,1)" x="0.58" font-size="45.35" font-weight="bold" text-anchor="middle" fill="#fff">U</text>
<text transform="translate(1149.07,318.79) rotate(24.66) scale(0.5201,1)" x="-0.58" font-size="45.35" font-weight="bold" text-anchor="middle" fill="#fff">N</text>
<text transform="translate(1149.07,318.79) rotate(24.66) scale(0.5201,1)" x="0.00" font-size="45.35" font-weight="bold" text-anchor="middle" fill="#fff">N</text>
<text transform="translate(1149.07,318.79) rotate(24.66) scale(0.5201,1)" x="0.58" font-size="45.35" font-weight="bold" text-anchor="middle" fill="#fff">N</text>
<text transform="translate(1163.86,326.23) rotate(28.77) scale(0.5201,1)" x="-0.58" font-size="45.35" font-weight="bold" text-anchor="middle" fill="#fff">E</text>
<text transform="translate(1163.86,326.23) rotate(28.77) scale(0.5201,1)" x="0.00" font-size="45.35" font-weight="bold" text-anchor="middle" fill="#fff">E</text>
<text transform="translate(1163.86,326.23) rotate(28.77) scale(0.5201,1)" x="0.58" font-size="45.35" font-weight="bold" text-anchor="middle" fill="#fff">E</text>
<text transform="translate(1178.09,334.72) rotate(32.87) scale(0.5201,1)" x="-0.58" font-size="45.35" font-weight="bold" text-anchor="middle" fill="#fff">N</text>
<text transform="translate(1178.09,334.72) rotate(32.87) scale(0.5201,1)" x="0.00" font-size="45.35" font-weight="bold" text-anchor="middle" fill="#fff">N</text>
<text transform="translate(1178.09,334.72) rotate(32.87) scale(0.5201,1)" x="0.58" font-size="45.35" font-weight="bold" text-anchor="middle" fill="#fff">N</text>
<text transform="translate(805.73,541.41) rotate(80.10) scale(0.5500,1)" x="-0.55" font-size="43.60" font-weight="bold" text-anchor="middle" fill="#fff">I</text>
<text transform="translate(805.73,541.41) rotate(80.10) scale(0.5500,1)" x="0.00" font-size="43.60" font-weight="bold" text-anchor="middle" fill="#fff">I</text>
<text transform="translate(805.73,541.41) rotate(80.10) scale(0.5500,1)" x="0.55" font-size="43.60" font-weight="bold" text-anchor="middle" fill="#fff">I</text>
<text transform="translate(808.53,555.28) rotate(77.10) scale(0.5500,1)" x="-0.55" font-size="43.60" font-weight="bold" text-anchor="middle" fill="#fff">N</text>
<text transform="translate(808.53,555.28) rotate(77.10) scale(0.5500,1)" x="0.00" font-size="43.60" font-weight="bold" text-anchor="middle" fill="#fff">N</text>
<text transform="translate(808.53,555.28) rotate(77.10) scale(0.5500,1)" x="0.55" font-size="43.60" font-weight="bold" text-anchor="middle" fill="#fff">N</text>
<text transform="translate(814.49,577.08) rotate(72.31) scale(0.5500,1)" x="-0.55" font-size="43.60" font-weight="bold" text-anchor="middle" fill="#fff">W</text>
<text transform="translate(814.49,577.08) rotate(72.31) scale(0.5500,1)" x="0.00" font-size="43.60" font-weight="bold" text-anchor="middle" fill="#fff">W</text>
<text transform="translate(814.49,577.08) rotate(72.31) scale(0.5500,1)" x="0.55" font-size="43.60" font-weight="bold" text-anchor="middle" fill="#fff">W</text>
<text transform="translate(822.52,598.96) rotate(67.38) scale(0.5500,1)" x="-0.55" font-size="43.60" font-weight="bold" text-anchor="middle" fill="#fff">O</text>
<text transform="translate(822.52,598.96) rotate(67.38) scale(0.5500,1)" x="0.00" font-size="43.60" font-weight="bold" text-anchor="middle" fill="#fff">O</text>
<text transform="translate(822.52,598.96) rotate(67.38) scale(0.5500,1)" x="0.55" font-size="43.60" font-weight="bold" text-anchor="middle" fill="#fff">O</text>
<text transform="translate(831.11,617.56) rotate(63.03) scale(0.5500,1)" x="-0.55" font-size="43.60" font-weight="bold" text-anchor="middle" fill="#fff">N</text>
<text transform="translate(831.11,617.56) rotate(63.03) scale(0.5500,1)" x="0.00" font-size="43.60" font-weight="bold" text-anchor="middle" fill="#fff">N</text>
<text transform="translate(831.11,617.56) rotate(63.03) scale(0.5500,1)" x="0.55" font-size="43.60" font-weight="bold" text-anchor="middle" fill="#fff">N</text>
<text transform="translate(840.36,634.26) rotate(58.99) scale(0.5500,1)" x="-0.55" font-size="43.60" font-weight="bold" text-anchor="middle" fill="#fff">E</text>
<text transform="translate(840.36,634.26) rotate(58.99) scale(0.5500,1)" x="0.00" font-size="43.60" font-weight="bold" text-anchor="middle" fill="#fff">E</text>
<text transform="translate(840.36,634.26) rotate(58.99) scale(0.5500,1)" x="0.55" font-size="43.60" font-weight="bold" text-anchor="middle" fill="#fff">E</text>
<text transform="translate(850.77,650.26) rotate(54.95) scale(0.5500,1)" x="-0.55" font-size="43.60" font-weight="bold" text-anchor="middle" fill="#fff">R</text>
<text transform="translate(850.77,650.26) rotate(54.95) scale(0.5500,1)" x="0.00" font-size="43.60" font-weight="bold" text-anchor="middle" fill="#fff">R</text>
<text transform="translate(850.77,650.26) rotate(54.95) scale(0.5500,1)" x="0.55" font-size="43.60" font-weight="bold" text-anchor="middle" fill="#fff">R</text>
<text transform="translate(862.27,665.49) rotate(50.90) scale(0.5500,1)" x="-0.55" font-size="43.60" font-weight="bold" text-anchor="middle" fill="#fff">S</text>
<text transform="translate(862.27,665.49) rotate(50.90) scale(0.5500,1)" x="0.00" font-size="43.60" font-weight="bold" text-anchor="middle" fill="#fff">S</text>
<text transform="translate(862.27,665.49) rotate(50.90) scale(0.5500,1)" x="0.55" font-size="43.60" font-weight="bold" text-anchor="middle" fill="#fff">S</text>
<text transform="translate(880.74,685.99) rotate(45.06) scale(0.5500,1)" x="-0.55" font-size="43.60" font-weight="bold" text-anchor="middle" fill="#fff">A</text>
<text transform="translate(880.74,685.99) rotate(45.06) scale(0.5500,1)" x="0.00" font-size="43.60" font-weight="bold" text-anchor="middle" fill="#fff">A</text>
<text transform="translate(880.74,685.99) rotate(45.06) scale(0.5500,1)" x="0.55" font-size="43.60" font-weight="bold" text-anchor="middle" fill="#fff">A</text>
<text transform="translate(895.22,699.47) rotate(40.86) scale(0.5500,1)" x="-0.55" font-size="43.60" font-weight="bold" text-anchor="middle" fill="#fff">C</text>
<text transform="translate(895.22,699.47) rotate(40.86) scale(0.5500,1)" x="0.00" font-size="43.60" font-weight="bold" text-anchor="middle" fill="#fff">C</text>
<text transform="translate(895.22,699.47) rotate(40.86) scale(0.5500,1)" x="0.55" font-size="43.60" font-weight="bold" text-anchor="middle" fill="#fff">C</text>
<text transform="translate(909.52,711.02) rotate(36.97) scale(0.5500,1)" x="-0.55" font-size="43.60" font-weight="bold" text-anchor="middle" fill="#fff">T</text>
<text transform="translate(909.52,711.02) rotate(36.97) scale(0.5500,1)" x="0.00" font-size="43.60" font-weight="bold" text-anchor="middle" fill="#fff">T</text>
<text transform="translate(909.52,711.02) rotate(36.97) scale(0.5500,1)" x="0.55" font-size="43.60" font-weight="bold" text-anchor="middle" fill="#fff">T</text>
<text transform="translate(919.87,718.43) rotate(34.27) scale(0.5500,1)" x="-0.55" font-size="43.60" font-weight="bold" text-anchor="middle" fill="#fff">I</text>
<text transform="translate(919.87,718.43) rotate(34.27) scale(0.5500,1)" x="0.00" font-size="43.60" font-weight="bold" text-anchor="middle" fill="#fff">I</text>
<text transform="translate(919.87,718.43) rotate(34.27) scale(0.5500,1)" x="0.55" font-size="43.60" font-weight="bold" text-anchor="middle" fill="#fff">I</text>
<text transform="translate(931.17,725.73) rotate(31.42) scale(0.5500,1)" x="-0.55" font-size="43.60" font-weight="bold" text-anchor="middle" fill="#fff">V</text>
<text transform="translate(931.17,725.73) rotate(31.42) scale(0.5500,1)" x="0.00" font-size="43.60" font-weight="bold" text-anchor="middle" fill="#fff">V</text>
<text transform="translate(931.17,725.73) rotate(31.42) scale(0.5500,1)" x="0.55" font-size="43.60" font-weight="bold" text-anchor="middle" fill="#fff">V</text>
<text transform="translate(947.18,734.78) rotate(27.53) scale(0.5500,1)" x="-0.55" font-size="43.60" font-weight="bold" text-anchor="middle" fill="#fff">E</text>
<text transform="translate(947.18,734.78) rotate(27.53) scale(0.5500,1)" x="0.00" font-size="43.60" font-weight="bold" text-anchor="middle" fill="#fff">E</text>
<text transform="translate(947.18,734.78) rotate(27.53) scale(0.5500,1)" x="0.55" font-size="43.60" font-weight="bold" text-anchor="middle" fill="#fff">E</text>
<text transform="translate(964.41,743.00) rotate(23.48) scale(0.5500,1)" x="-0.55" font-size="43.60" font-weight="bold" text-anchor="middle" fill="#fff">R</text>
<text transform="translate(964.41,743.00) rotate(23.48) scale(0.5500,1)" x="0.00" font-size="43.60" font-weight="bold" text-anchor="middle" fill="#fff">R</text>
<text transform="translate(964.41,743.00) rotate(23.48) scale(0.5500,1)" x="0.55" font-size="43.60" font-weight="bold" text-anchor="middle" fill="#fff">R</text>
<text transform="translate(982.17,749.98) rotate(19.44) scale(0.5500,1)" x="-0.55" font-size="43.60" font-weight="bold" text-anchor="middle" fill="#fff">E</text>
<text transform="translate(982.17,749.98) rotate(19.44) scale(0.5500,1)" x="0.00" font-size="43.60" font-weight="bold" text-anchor="middle" fill="#fff">E</text>
<text transform="translate(982.17,749.98) rotate(19.44) scale(0.5500,1)" x="0.55" font-size="43.60" font-weight="bold" text-anchor="middle" fill="#fff">E</text>
<text transform="translate(1000.38,755.69) rotate(15.40) scale(0.5500,1)" x="-0.55" font-size="43.60" font-weight="bold" text-anchor="middle" fill="#fff">N</text>
<text transform="translate(1000.38,755.69) rotate(15.40) scale(0.5500,1)" x="0.00" font-size="43.60" font-weight="bold" text-anchor="middle" fill="#fff">N</text>
<text transform="translate(1000.38,755.69) rotate(15.40) scale(0.5500,1)" x="0.55" font-size="43.60" font-weight="bold" text-anchor="middle" fill="#fff">N</text>
<text transform="translate(1077.45,738.12) rotate(-6.07) scale(0.5090,1)" x="-0.59" font-size="36.34" font-weight="bold" text-anchor="middle" fill="#fff">V</text>
<text transform="translate(1077.45,738.12) rotate(-6.07) scale(0.5090,1)" x="0.00" font-size="36.34" font-weight="bold" text-anchor="middle" fill="#fff">V</text>
<text transform="translate(1077.45,738.12) rotate(-6.07) scale(0.5090,1)" x="0.59" font-size="36.34" font-weight="bold" text-anchor="middle" fill="#fff">V</text>
<text transform="translate(1092.18,736.10) rotate(-9.52) scale(0.5090,1)" x="-0.59" font-size="36.34" font-weight="bold" text-anchor="middle" fill="#fff">R</text>
<text transform="translate(1092.18,736.10) rotate(-9.52) scale(0.5090,1)" x="0.00" font-size="36.34" font-weight="bold" text-anchor="middle" fill="#fff">R</text>
<text transform="translate(1092.18,736.10) rotate(-9.52) scale(0.5090,1)" x="0.59" font-size="36.34" font-weight="bold" text-anchor="middle" fill="#fff">R</text>
<text transform="translate(1103.07,734.02) rotate(-12.10) scale(0.5090,1)" x="-0.59" font-size="36.34" font-weight="bold" text-anchor="middle" fill="#fff">I</text>
<text transform="translate(1103.07,734.02) rotate(-12.10) scale(0.5090,1)" x="0.00" font-size="36.34" font-weight="bold" text-anchor="middle" fill="#fff">I</text>
<text transform="translate(1103.07,734.02) rotate(-12.10) scale(0.5090,1)" x="0.59" font-size="36.34" font-weight="bold" text-anchor="middle" fill="#fff">I</text>
<text transform="translate(1112.29,731.86) rotate(-14.30) scale(0.5090,1)" x="-0.59" font-size="36.34" font-weight="bold" text-anchor="middle" fill="#fff">J</text>
<text transform="translate(1112.29,731.86) rotate(-14.30) scale(0.5090,1)" x="0.00" font-size="36.34" font-weight="bold" text-anchor="middle" fill="#fff">J</text>
<text transform="translate(1112.29,731.86) rotate(-14.30) scale(0.5090,1)" x="0.59" font-size="36.34" font-weight="bold" text-anchor="middle" fill="#fff">J</text>
<text transform="translate(1127.61,727.42) rotate(-18.01) scale(0.5090,1)" x="-0.59" font-size="36.34" font-weight="bold" text-anchor="middle" fill="#fff">W</text>
<text transform="translate(1127.61,727.42) rotate(-18.01) scale(0.5090,1)" x="0.00" font-size="36.34" font-weight="bold" text-anchor="middle" fill="#fff">W</text>
<text transform="translate(1127.61,727.42) rotate(-18.01) scale(0.5090,1)" x="0.59" font-size="36.34" font-weight="bold" text-anchor="middle" fill="#fff">W</text>
<text transform="translate(1140.09,722.99) rotate(-21.09) scale(0.5090,1)" x="-0.59" font-size="36.34" font-weight="bold" text-anchor="middle" fill="#fff">I</text>
<text transform="translate(1140.09,722.99) rotate(-21.09) scale(0.5090,1)" x="0.00" font-size="36.34" font-weight="bold" text-anchor="middle" fill="#fff">I</text>
<text transform="translate(1140.09,722.99) rotate(-21.09) scale(0.5090,1)" x="0.59" font-size="36.34" font-weight="bold" text-anchor="middle" fill="#fff">I</text>
<text transform="translate(1149.34,719.21) rotate(-23.41) scale(0.5090,1)" x="-0.59" font-size="36.34" font-weight="bold" text-anchor="middle" fill="#fff">L</text>
<text transform="translate(1149.34,719.21) rotate(-23.41) scale(0.5090,1)" x="0.00" font-size="36.34" font-weight="bold" text-anchor="middle" fill="#fff">L</text>
<text transform="translate(1149.34,719.21) rotate(-23.41) scale(0.5090,1)" x="0.59" font-size="36.34" font-weight="bold" text-anchor="middle" fill="#fff">L</text>
<text transform="translate(1161.34,713.62) rotate(-26.49) scale(0.5090,1)" x="-0.59" font-size="36.34" font-weight="bold" text-anchor="middle" fill="#fff">L</text>
<text transform="translate(1161.34,713.62) rotate(-26.49) scale(0.5090,1)" x="0.00" font-size="36.34" font-weight="bold" text-anchor="middle" fill="#fff">L</text>
<text transform="translate(1161.34,713.62) rotate(-26.49) scale(0.5090,1)" x="0.59" font-size="36.34" font-weight="bold" text-anchor="middle" fill="#fff">L</text>
<text transform="translate(1170.20,708.98) rotate(-28.81) scale(0.5090,1)" x="-0.59" font-size="36.34" font-weight="bold" text-anchor="middle" fill="#fff">I</text>
<text transform="translate(1170.20,708.98) rotate(-28.81) scale(0.5090,1)" x="0.00" font-size="36.34" font-weight="bold" text-anchor="middle" fill="#fff">I</text>
<text transform="translate(1170.20,708.98) rotate(-28.81) scale(0.5090,1)" x="0.59" font-size="36.34" font-weight="bold" text-anchor="middle" fill="#fff">I</text>
<text transform="translate(1180.25,703.14) rotate(-31.51) scale(0.5090,1)" x="-0.59" font-size="36.34" font-weight="bold" text-anchor="middle" fill="#fff">G</text>
<text transform="translate(1180.25,703.14) rotate(-31.51) scale(0.5090,1)" x="0.00" font-size="36.34" font-weight="bold" text-anchor="middle" fill="#fff">G</text>
<text transform="translate(1180.25,703.14) rotate(-31.51) scale(0.5090,1)" x="0.59" font-size="36.34" font-weight="bold" text-anchor="middle" fill="#fff">G</text>
<text transform="translate(1193.13,694.68) rotate(-35.10) scale(0.5090,1)" x="-0.59" font-size="36.34" font-weight="bold" text-anchor="middle" fill="#fff">E</text>
<text transform="translate(1193.13,694.68) rotate(-35.10) scale(0.5090,1)" x="0.00" font-size="36.34" font-weight="bold" text-anchor="middle" fill="#fff">E</text>
<text transform="translate(1193.13,694.68) rotate(-35.10) scale(0.5090,1)" x="0.59" font-size="36.34" font-weight="bold" text-anchor="middle" fill="#fff">E</text>
<text transform="translate(1205.04,685.76) rotate(-38.56) scale(0.5090,1)" x="-0.59" font-size="36.34" font-weight="bold" text-anchor="middle" fill="#fff">R</text>
<text transform="translate(1205.04,685.76) rotate(-38.56) scale(0.5090,1)" x="0.00" font-size="36.34" font-weight="bold" text-anchor="middle" fill="#fff">R</text>
<text transform="translate(1205.04,685.76) rotate(-38.56) scale(0.5090,1)" x="0.59" font-size="36.34" font-weight="bold" text-anchor="middle" fill="#fff">R</text>
<text transform="translate(1216.38,676.15) rotate(-42.01) scale(0.5090,1)" x="-0.59" font-size="36.34" font-weight="bold" text-anchor="middle" fill="#fff">S</text>
<text transform="translate(1216.38,676.15) rotate(-42.01) scale(0.5090,1)" x="0.00" font-size="36.34" font-weight="bold" text-anchor="middle" fill="#fff">S</text>
<text transform="translate(1216.38,676.15) rotate(-42.01) scale(0.5090,1)" x="0.59" font-size="36.34" font-weight="bold" text-anchor="middle" fill="#fff">S</text>
<text transform="translate(1227.51,665.48) rotate(-45.60) scale(0.5090,1)" x="-0.59" font-size="36.34" font-weight="bold" text-anchor="middle" fill="#fff">O</text>
<text transform="translate(1227.51,665.48) rotate(-45.60) scale(0.5090,1)" x="0.00" font-size="36.34" font-weight="bold" text-anchor="middle" fill="#fff">O</text>
<text transform="translate(1227.51,665.48) rotate(-45.60) scale(0.5090,1)" x="0.59" font-size="36.34" font-weight="bold" text-anchor="middle" fill="#fff">O</text>
<text transform="translate(1238.29,653.73) rotate(-49.31) scale(0.5090,1)" x="-0.59" font-size="36.34" font-weight="bold" text-anchor="middle" fill="#fff">R</text>
<text transform="translate(1238.29,653.73) rotate(-49.31) scale(0.5090,1)" x="0.00" font-size="36.34" font-weight="bold" text-anchor="middle" fill="#fff">R</text>
<text transform="translate(1238.29,653.73) rotate(-49.31) scale(0.5090,1)" x="0.59" font-size="36.34" font-weight="bold" text-anchor="middle" fill="#fff">R</text>
<text transform="translate(1248.30,641.30) rotate(-53.01) scale(0.5090,1)" x="-0.59" font-size="36.34" font-weight="bold" text-anchor="middle" fill="#fff">G</text>
<text transform="translate(1248.30,641.30) rotate(-53.01) scale(0.5090,1)" x="0.00" font-size="36.34" font-weight="bold" text-anchor="middle" fill="#fff">G</text>
<text transform="translate(1248.30,641.30) rotate(-53.01) scale(0.5090,1)" x="0.59" font-size="36.34" font-weight="bold" text-anchor="middle" fill="#fff">G</text>
<text transform="translate(1257.48,628.26) rotate(-56.72) scale(0.5090,1)" x="-0.59" font-size="36.34" font-weight="bold" text-anchor="middle" fill="#fff">A</text>
<text transform="translate(1257.48,628.26) rotate(-56.72) scale(0.5090,1)" x="0.00" font-size="36.34" font-weight="bold" text-anchor="middle" fill="#fff">A</text>
<text transform="translate(1257.48,628.26) rotate(-56.72) scale(0.5090,1)" x="0.59" font-size="36.34" font-weight="bold" text-anchor="middle" fill="#fff">A</text>
<text transform="translate(1265.53,615.11) rotate(-60.30) scale(0.5090,1)" x="-0.59" font-size="36.34" font-weight="bold" text-anchor="middle" fill="#fff">N</text>
<text transform="translate(1265.53,615.11) rotate(-60.30) scale(0.5090,1)" x="0.00" font-size="36.34" font-weight="bold" text-anchor="middle" fill="#fff">N</text>
<text transform="translate(1265.53,615.11) rotate(-60.30) scale(0.5090,1)" x="0.59" font-size="36.34" font-weight="bold" text-anchor="middle" fill="#fff">N</text>
<text transform="translate(1270.80,605.37) rotate(-62.88) scale(0.5090,1)" x="-0.59" font-size="36.34" font-weight="bold" text-anchor="middle" fill="#fff">I</text>
<text transform="translate(1270.80,605.37) rotate(-62.88) scale(0.5090,1)" x="0.00" font-size="36.34" font-weight="bold" text-anchor="middle" fill="#fff">I</text>
<text transform="translate(1270.80,605.37) rotate(-62.88) scale(0.5090,1)" x="0.59" font-size="36.34" font-weight="bold" text-anchor="middle" fill="#fff">I</text>
<text transform="translate(1275.40,595.88) rotate(-65.33) scale(0.5090,1)" x="-0.59" font-size="36.34" font-weight="bold" text-anchor="middle" fill="#fff">S</text>
<text transform="translate(1275.40,595.88) rotate(-65.33) scale(0.5090,1)" x="0.00" font-size="36.34" font-weight="bold" text-anchor="middle" fill="#fff">S</text>
<text transform="translate(1275.40,595.88) rotate(-65.33) scale(0.5090,1)" x="0.59" font-size="36.34" font-weight="bold" text-anchor="middle" fill="#fff">S</text>
<text transform="translate(1281.20,582.18) rotate(-68.79) scale(0.5090,1)" x="-0.59" font-size="36.34" font-weight="bold" text-anchor="middle" fill="#fff">A</text>
<text transform="translate(1281.20,582.18) rotate(-68.79) scale(0.5090,1)" x="0.00" font-size="36.34" font-weight="bold" text-anchor="middle" fill="#fff">A</text>
<text transform="translate(1281.20,582.18) rotate(-68.79) scale(0.5090,1)" x="0.59" font-size="36.34" font-weight="bold" text-anchor="middle" fill="#fff">A</text>
<text transform="translate(1285.99,568.68) rotate(-72.12) scale(0.5090,1)" x="-0.59" font-size="36.34" font-weight="bold" text-anchor="middle" fill="#fff">T</text>
<text transform="translate(1285.99,568.68) rotate(-72.12) scale(0.5090,1)" x="0.00" font-size="36.34" font-weight="bold" text-anchor="middle" fill="#fff">T</text>
<text transform="translate(1285.99,568.68) rotate(-72.12) scale(0.5090,1)" x="0.59" font-size="36.34" font-weight="bold" text-anchor="middle" fill="#fff">T</text>
<text transform="translate(1288.87,559.11) rotate(-74.44) scale(0.5090,1)" x="-0.59" font-size="36.34" font-weight="bold" text-anchor="middle" fill="#fff">I</text>
<text transform="translate(1288.87,559.11) rotate(-74.44) scale(0.5090,1)" x="0.00" font-size="36.34" font-weight="bold" text-anchor="middle" fill="#fff">I</text>
<text transform="translate(1288.87,559.11) rotate(-74.44) scale(0.5090,1)" x="0.59" font-size="36.34" font-weight="bold" text-anchor="middle" fill="#fff">I</text>
<text transform="translate(1291.48,548.89) rotate(-76.89) scale(0.5090,1)" x="-0.59" font-size="36.34" font-weight="bold" text-anchor="middle" fill="#fff">E</text>
<text transform="translate(1291.48,548.89) rotate(-76.89) scale(0.5090,1)" x="0.00" font-size="36.34" font-weight="bold" text-anchor="middle" fill="#fff">E</text>
<text transform="translate(1291.48,548.89) rotate(-76.89) scale(0.5090,1)" x="0.59" font-size="36.34" font-weight="bold" text-anchor="middle" fill="#fff">E</text>
<text transform="translate(1294.32,534.84) rotate(-80.23) scale(0.5090,1)" x="-0.59" font-size="36.34" font-weight="bold" text-anchor="middle" fill="#fff">S</text>
<text transform="translate(1294.32,534.84) rotate(-80.23) scale(0.5090,1)" x="0.00" font-size="36.34" font-weight="bold" text-anchor="middle" fill="#fff">S</text>
<text transform="translate(1294.32,534.84) rotate(-80.23) scale(0.5090,1)" x="0.59" font-size="36.34" font-weight="bold" text-anchor="middle" fill="#fff">S</text>
<text transform="translate(1297.10,512.85) rotate(-85.38) scale(0.5090,1)" x="-0.59" font-size="36.34" font-weight="bold" text-anchor="middle" fill="#fff">O</text>
<text transform="translate(1297.10,512.85) rotate(-85.38) scale(0.5090,1)" x="0.00" font-size="36.34" font-weight="bold" text-anchor="middle" fill="#fff">O</text>
<text transform="translate(1297.10,512.85) rotate(-85.38) scale(0.5090,1)" x="0.59" font-size="36.34" font-weight="bold" text-anchor="middle" fill="#fff">O</text>
<text transform="translate(1297.87,496.92) rotate(-89.09) scale(0.5090,1)" x="-0.59" font-size="36.34" font-weight="bold" text-anchor="middle" fill="#fff">N</text>
<text transform="translate(1297.87,496.92) rotate(-89.09) scale(0.5090,1)" x="0.00" font-size="36.34" font-weight="bold" text-anchor="middle" fill="#fff">N</text>
<text transform="translate(1297.87,496.92) rotate(-89.09) scale(0.5090,1)" x="0.59" font-size="36.34" font-weight="bold" text-anchor="middle" fill="#fff">N</text>
<text transform="translate(1297.63,481.51) rotate(-92.67) scale(0.5090,1)" x="-0.59" font-size="36.34" font-weight="bold" text-anchor="middle" fill="#fff">D</text>
<text transform="translate(1297.63,481.51) rotate(-92.67) scale(0.5090,1)" x="0.00" font-size="36.34" font-weight="bold" text-anchor="middle" fill="#fff">D</text>
<text transform="translate(1297.63,481.51) rotate(-92.67) scale(0.5090,1)" x="0.59" font-size="36.34" font-weight="bold" text-anchor="middle" fill="#fff">D</text>
<text transform="translate(1296.49,466.68) rotate(-96.13) scale(0.5090,1)" x="-0.59" font-size="36.34" font-weight="bold" text-anchor="middle" fill="#fff">E</text>
<text transform="translate(1296.49,466.68) rotate(-96.13) scale(0.5090,1)" x="0.00" font-size="36.34" font-weight="bold" text-anchor="middle" fill="#fff">E</text>
<text transform="translate(1296.49,466.68) rotate(-96.13) scale(0.5090,1)" x="0.59" font-size="36.34" font-weight="bold" text-anchor="middle" fill="#fff">E</text>
<text transform="translate(1294.46,451.95) rotate(-99.59) scale(0.5090,1)" x="-0.59" font-size="36.34" font-weight="bold" text-anchor="middle" fill="#fff">R</text>
<text transform="translate(1294.46,451.95) rotate(-99.59) scale(0.5090,1)" x="0.00" font-size="36.34" font-weight="bold" text-anchor="middle" fill="#fff">R</text>
<text transform="translate(1294.46,451.95) rotate(-99.59) scale(0.5090,1)" x="0.59" font-size="36.34" font-weight="bold" text-anchor="middle" fill="#fff">R</text>
<text transform="translate(1291.54,437.37) rotate(-103.04) scale(0.5090,1)" x="-0.59" font-size="36.34" font-weight="bold" text-anchor="middle" fill="#fff">S</text>
<text transform="translate(1291.54,437.37) rotate(-103.04) scale(0.5090,1)" x="0.00" font-size="36.34" font-weight="bold" text-anchor="middle" fill="#fff">S</text>
<text transform="translate(1291.54,437.37) rotate(-103.04) scale(0.5090,1)" x="0.59" font-size="36.34" font-weight="bold" text-anchor="middle" fill="#fff">S</text>
<text transform="translate(1288.05,424.03) rotate(-106.25) scale(0.5090,1)" x="-0.59" font-size="36.34" font-weight="bold" text-anchor="middle" fill="#fff">T</text>
<text transform="translate(1288.05,424.03) rotate(-106.25) scale(0.5090,1)" x="0.00" font-size="36.34" font-weight="bold" text-anchor="middle" fill="#fff">T</text>
<text transform="translate(1288.05,424.03) rotate(-106.25) scale(0.5090,1)" x="0.59" font-size="36.34" font-weight="bold" text-anchor="middle" fill="#fff">T</text>
<text transform="translate(1283.83,410.90) rotate(-109.45) scale(0.5090,1)" x="-0.59" font-size="36.34" font-weight="bold" text-anchor="middle" fill="#fff">E</text>
<text transform="translate(1283.83,410.90) rotate(-109.45) scale(0.5090,1)" x="0.00" font-size="36.34" font-weight="bold" text-anchor="middle" fill="#fff">E</text>
<text transform="translate(1283.83,410.90) rotate(-109.45) scale(0.5090,1)" x="0.59" font-size="36.34" font-weight="bold" text-anchor="middle" fill="#fff">E</text>
<text transform="translate(1278.45,397.04) rotate(-112.91) scale(0.5090,1)" x="-0.59" font-size="36.34" font-weight="bold" text-anchor="middle" fill="#fff">U</text>
<text transform="translate(1278.45,397.04) rotate(-112.91) scale(0.5090,1)" x="0.00" font-size="36.34" font-weight="bold" text-anchor="middle" fill="#fff">U</text>
<text transform="translate(1278.45,397.04) rotate(-112.91) scale(0.5090,1)" x="0.59" font-size="36.34" font-weight="bold" text-anchor="middle" fill="#fff">U</text>
<text transform="translate(1272.01,383.04) rotate(-116.49) scale(0.5090,1)" x="-0.59" font-size="36.34" font-weight="bold" text-anchor="middle" fill="#fff">N</text>
<text transform="translate(1272.01,383.04) rotate(-116.49) scale(0.5090,1)" x="0.00" font-size="36.34" font-weight="bold" text-anchor="middle" fill="#fff">N</text>
<text transform="translate(1272.01,383.04) rotate(-116.49) scale(0.5090,1)" x="0.59" font-size="36.34" font-weight="bold" text-anchor="middle" fill="#fff">N</text>
<text transform="translate(1264.98,369.93) rotate(-119.95) scale(0.5090,1)" x="-0.59" font-size="36.34" font-weight="bold" text-anchor="middle" fill="#fff">E</text>
<text transform="translate(1264.98,369.93) rotate(-119.95) scale(0.5090,1)" x="0.00" font-size="36.34" font-weight="bold" text-anchor="middle" fill="#fff">E</text>
<text transform="translate(1264.98,369.93) rotate(-119.95) scale(0.5090,1)" x="0.59" font-size="36.34" font-weight="bold" text-anchor="middle" fill="#fff">E</text>
<text transform="translate(1257.17,357.27) rotate(-123.41) scale(0.5090,1)" x="-0.59" font-size="36.34" font-weight="bold" text-anchor="middle" fill="#fff">N</text>
<text transform="translate(1257.17,357.27) rotate(-123.41) scale(0.5090,1)" x="0.00" font-size="36.34" font-weight="bold" text-anchor="middle" fill="#fff">N</text>
<text transform="translate(1257.17,357.27) rotate(-123.41) scale(0.5090,1)" x="0.59" font-size="36.34" font-weight="bold" text-anchor="middle" fill="#fff">N</text>
<text x="338.75" y="568.20" font-size="34.30" font-weight="bold" fill="#23204f" textLength="116.90" lengthAdjust="spacingAndGlyphs" >INWONERS</text>
<text x="338.90" y="568.20" font-size="34.30" font-weight="bold" fill="#23204f" textLength="116.90" lengthAdjust="spacingAndGlyphs" >INWONERS</text>
<text x="339.05" y="568.20" font-size="34.30" font-weight="bold" fill="#23204f" textLength="116.90" lengthAdjust="spacingAndGlyphs" >INWONERS</text>
<text x="327.05" y="601.40" font-size="35.76" font-weight="bold" fill="#23204f" textLength="141.90" lengthAdjust="spacingAndGlyphs" >VERSTERKEN</text>
<text x="327.20" y="601.40" font-size="35.76" font-weight="bold" fill="#23204f" textLength="141.90" lengthAdjust="spacingAndGlyphs" >VERSTERKEN</text>
<text x="327.35" y="601.40" font-size="35.76" font-weight="bold" fill="#23204f" textLength="141.90" lengthAdjust="spacingAndGlyphs" >VERSTERKEN</text>
<text x="1009.25" y="554.90" font-size="36.34" font-weight="bold" fill="#23204f" textLength="89.00" lengthAdjust="spacingAndGlyphs" >KRACHT</text>
<text x="1009.40" y="554.90" font-size="36.34" font-weight="bold" fill="#23204f" textLength="89.00" lengthAdjust="spacingAndGlyphs" >KRACHT</text>
<text x="1009.55" y="554.90" font-size="36.34" font-weight="bold" fill="#23204f" textLength="89.00" lengthAdjust="spacingAndGlyphs" >KRACHT</text>
<text x="1002.55" y="587.30" font-size="36.34" font-weight="bold" fill="#23204f" textLength="101.90" lengthAdjust="spacingAndGlyphs" >BUURTEN</text>
<text x="1002.70" y="587.30" font-size="36.34" font-weight="bold" fill="#23204f" textLength="101.90" lengthAdjust="spacingAndGlyphs" >BUURTEN</text>
<text x="1002.85" y="587.30" font-size="36.34" font-weight="bold" fill="#23204f" textLength="101.90" lengthAdjust="spacingAndGlyphs" >BUURTEN</text>
<text x="982.55" y="619.80" font-size="36.34" font-weight="bold" fill="#23204f" textLength="141.90" lengthAdjust="spacingAndGlyphs" >VERSTERKEN</text>
<text x="982.70" y="619.80" font-size="36.34" font-weight="bold" fill="#23204f" textLength="141.90" lengthAdjust="spacingAndGlyphs" >VERSTERKEN</text>
<text x="982.85" y="619.80" font-size="36.34" font-weight="bold" fill="#23204f" textLength="141.90" lengthAdjust="spacingAndGlyphs" >VERSTERKEN</text>
<g fill="#fff">
<circle cx="382.25" cy="220.64" r="12.3"/>
<polygon points="357.83,211.36 370.18,210.61 372.03,206.25 377.14,202.53 383.64,201.61 389.21,203.00 392.92,207.18 394.04,213.96 362.28,217.11"/>
<line x1="369.90" y1="216.93" x2="394.78" y2="214.33" stroke="#4db9b4" stroke-width="0.9"/>
<rect x="372.03" y="233.18" width="20.89" height="40.39" rx="5"/>
<path d="M377.14,236.43 Q367.86,238.28 363.96,258.52" fill="none" stroke="#fff" stroke-width="6.4" stroke-linecap="round"/>
<path d="M387.82,236.43 Q397.10,238.28 400.82,258.52" fill="none" stroke="#fff" stroke-width="6.4" stroke-linecap="round"/>
<rect x="372.03" y="255.00" width="8.36" height="34.35" rx="4.1"/>
<rect x="384.29" y="255.00" width="8.64" height="34.35" rx="4.1"/>
<ellipse cx="428.67" cy="220.45" rx="13.6" ry="12.2"/>
<polygon points="415.21,220.64 415.39,227.14 417.53,231.97 421.71,229.46"/>
<polygon points="442.14,220.64 441.95,227.14 440.09,231.97 435.64,229.46"/>
<polygon points="417.81,200.68 428.21,204.86 438.89,200.68 438.89,209.22 432.85,209.96 423.57,209.96 417.81,209.22"/>
<polygon points="419.85,233.18 437.49,233.18 440.09,245.71 442.60,270.32 414.28,270.32 416.88,245.71"/>
<path d="M422.64,236.43 Q414.28,238.28 409.82,258.71" fill="none" stroke="#fff" stroke-width="6.4" stroke-linecap="round"/>
<path d="M434.71,236.43 Q443.06,238.28 447.24,258.71" fill="none" stroke="#fff" stroke-width="6.4" stroke-linecap="round"/>
<rect x="417.99" y="264.28" width="8.54" height="25.07" rx="4.1"/>
<rect x="430.53" y="264.28" width="8.54" height="25.07" rx="4.1"/>
</g>
<g fill="#fff" stroke="#fff" stroke-width="1.2" stroke-linejoin="round">
<circle cx="152.20" cy="460.10" r="8.9" stroke="none"/>
<polygon points="135.63,461.05 140.23,457.51 143.10,452.72 147.89,448.89 153.64,448.41 158.43,451.28 160.54,455.59 159.39,457.51 143.10,460.67 136.88,462.30"/>
<polygon points="142.15,471.88 124.43,484.81 117.24,501.09 117.72,503.20 120.59,502.82 128.74,490.56 136.40,485.77 133.05,501.09 122.99,517.38 111.97,531.26 117.72,537.49 122.99,537.97 123.95,535.57 119.16,530.79 130.65,522.16 140.71,509.23 151.25,515.46 146.46,530.31 139.27,530.31 138.79,533.18 141.67,534.62 142.62,537.97 145.98,537.97 147.41,534.62 168.01,534.62 168.49,537.97 172.32,538.45 173.28,534.14 176.15,533.66 176.15,530.79 160.82,530.31 159.87,527.91 153.16,526.48 161.30,513.54 148.37,500.13 151.25,487.68 161.30,493.43 174.23,499.66 176.15,497.26 163.22,487.20 149.81,471.88"/>
</g>
<g fill="#fff">
<path d="M621.83,484.78 L621.83,477.13 Q621.83,471.86 627.76,471.19 L635.42,471.19 Q641.36,471.86 641.36,477.13 L641.36,521.17 L621.83,521.17 Z"/>
<path d="M624.41,474.25 Q615.32,480.00 615.89,496.27" fill="none" stroke="#fff" stroke-width="6.0" stroke-linecap="round"/>
<path d="M638.77,474.25 Q646.91,480.00 647.10,492.44" fill="none" stroke="#fff" stroke-width="6.0" stroke-linecap="round"/>
<rect x="621.83" y="502.02" width="8.81" height="39.06" rx="3.6"/>
<rect x="632.55" y="502.02" width="8.81" height="39.06" rx="3.6"/>
<circle cx="631.59" cy="463.43" r="10.6" stroke="#e5346b" stroke-width="0.9"/>
<ellipse cx="631.59" cy="455.11" rx="16.6" ry="2.1"/>
<polygon points="623.46,454.63 624.41,449.36 627.29,445.53 630.64,444.57 633.03,445.72 635.62,444.57 638.30,446.49 639.73,450.32 640.21,454.63"/>
<circle cx="666.35" cy="454.91" r="10.35"/>
<polygon points="675.63,464.87 671.33,465.83 668.17,468.51 666.06,474.25 662.23,480.00 655.53,484.78 650.26,487.66 644.04,496.27 650.74,495.12 657.44,493.40 665.10,489.09 669.89,484.98 672.95,499.34 667.02,506.33 662.71,516.38 659.84,526.91 658.21,535.53 659.84,539.83 663.67,541.08 667.50,538.88 668.74,531.70 671.33,521.17 675.16,513.03 679.46,507.28 681.38,516.38 685.21,525.95 689.52,534.09 693.35,539.36 696.70,540.79 700.05,538.88 700.53,535.05 695.74,528.35 691.43,519.25 689.52,509.68 688.56,501.06 682.34,468.03 679.94,465.45" stroke="#fff" stroke-width="1" stroke-linejoin="round"/>
</g>
<path d="M367.70,732.90 L386.90,732.90 Q394.40,732.90 394.40,740.40 L391.60,766.90 Q391.30,769.90 387.90,769.90 L386.30,795.40 Q386.00,798.90 382.30,798.90 L372.30,798.90 Q368.60,798.90 368.30,795.40 L366.70,769.90 Q363.30,769.90 363.00,766.90 L360.20,740.40 Q360.20,732.90 367.70,732.90 Z" fill="#fff"/>
<circle cx="377.30" cy="720.70" r="10.6" fill="#fff"/>
<path d="M408.80,732.90 L428.00,732.90 Q435.50,732.90 435.50,740.40 L432.70,766.90 Q432.40,769.90 429.00,769.90 L427.40,795.40 Q427.10,798.90 423.40,798.90 L413.40,798.90 Q409.70,798.90 409.40,795.40 L407.80,769.90 Q404.40,769.90 404.10,766.90 L401.30,740.40 Q401.30,732.90 408.80,732.90 Z" fill="#fff"/>
<circle cx="418.40" cy="720.70" r="10.6" fill="#fff"/>
<path d="M388.90,741.00 L406.50,741.00 Q414.00,741.00 414.00,748.50 L411.20,775.60 Q410.90,778.60 407.60,778.60 L406.20,803.60 Q405.90,807.10 402.20,807.10 L393.20,807.10 Q389.50,807.10 389.20,803.60 L387.80,778.60 Q384.50,778.60 384.20,775.60 L381.40,748.50 Q381.40,741.00 388.90,741.00 Z" fill="#fff" stroke="#4384f3" stroke-width="3.6" paint-order="stroke"/>
<circle cx="397.70" cy="728.80" r="10.6" fill="#fff" stroke="#4384f3" stroke-width="3.6" paint-order="stroke"/>
<defs>
<linearGradient id="gRoofB" x1="0" y1="0" x2="123.5" y2="0" gradientUnits="userSpaceOnUse"><stop offset="0" stop-color="#66c0f2"/><stop offset="0.45" stop-color="#559ef2"/><stop offset="1" stop-color="#4384f3"/></linearGradient>
<linearGradient id="gRoofF" x1="28.6" y1="0" x2="216.7" y2="0" gradientUnits="userSpaceOnUse"><stop offset="0" stop-color="#6cc6f3"/><stop offset="0.3" stop-color="#62b3f2"/><stop offset="1" stop-color="#4384f3"/></linearGradient>
<linearGradient id="gBody" x1="36.9" y1="0" x2="180.1" y2="0" gradientUnits="userSpaceOnUse"><stop offset="0" stop-color="#68bdf3"/><stop offset="1" stop-color="#4589f3"/></linearGradient>
<linearGradient id="gDoor" x1="36.9" y1="0" x2="65.2" y2="0" gradientUnits="userSpaceOnUse"><stop offset="0" stop-color="#68c2f3"/><stop offset="1" stop-color="#4384f3"/></linearGradient>
<linearGradient id="gOP" x1="0" x2="1" y1="0" y2="0"><stop offset="0" stop-color="#e9a45e"/><stop offset="1" stop-color="#e5406b"/></linearGradient>
</defs>
<g transform="translate(286.3,447.4) rotate(0) scale(1.0)">
<polygon points="-1.2,0 93.6,-61.6 123.5,-61.6 28.6,0" fill="url(#gRoofB)"/>
<polygon points="28.6,0 123.5,-61.6 217.9,0" fill="url(#gRoofF)"/>
<rect x="36.9" y="-0.3" width="143.2" height="45.6" fill="url(#gBody)"/>
<rect x="36.9" y="-0.3" width="28.3" height="45.6" fill="url(#gDoor)"/>
<rect x="36.9" y="51.1" width="28.3" height="29" fill="url(#gYP)"/>
<rect x="65.2" y="51.1" width="114.9" height="29" fill="url(#gYP)"/>
</g>
<linearGradient id="gOP2" x1="366" x2="460" y1="0" y2="0" gradientUnits="userSpaceOnUse"><stop offset="0" stop-color="#e9b25e"/><stop offset="0.45" stop-color="#e8706a"/><stop offset="1" stop-color="#e5346b"/></linearGradient>
<linearGradient id="gLB" x1="390" x2="460" y1="0" y2="0" gradientUnits="userSpaceOnUse"><stop offset="0" stop-color="#7fd0f6"/><stop offset="1" stop-color="#4a8cf0"/></linearGradient>
<text x="366.50" y="448.00" font-size="15.99" font-weight="bold" fill="url(#gOP2)" textLength="89.00" lengthAdjust="spacingAndGlyphs" stroke="url(#gOP2)" stroke-width="1.3" stroke-linejoin="round">IK GA VOOR</text>
<text x="369.80" y="448.00" font-size="15.99" font-weight="bold" fill="#fff" textLength="89.00" lengthAdjust="spacingAndGlyphs" stroke="#fff" stroke-width="0.9" stroke-linejoin="round">IK GA VOOR</text>
<text x="365.00" y="477.20" font-size="15.99" font-weight="bold" fill="url(#gOP2)" textLength="91.20" lengthAdjust="spacingAndGlyphs" stroke="url(#gOP2)" stroke-width="1.3" stroke-linejoin="round">ONTMOETEN</text>
<text x="368.30" y="477.20" font-size="15.99" font-weight="bold" fill="#fff" textLength="91.20" lengthAdjust="spacingAndGlyphs" stroke="#fff" stroke-width="0.9" stroke-linejoin="round">ONTMOETEN</text>
<text x="390.90" y="521.10" font-size="15.41" font-weight="bold" fill="url(#gLB)" textLength="64.60" lengthAdjust="spacingAndGlyphs" stroke="url(#gLB)" stroke-width="1.3" stroke-linejoin="round">JIJ OOK?</text>
<text x="393.10" y="519.50" font-size="15.41" font-weight="bold" fill="#fff" textLength="64.60" lengthAdjust="spacingAndGlyphs" stroke="#fff" stroke-width="0.9" stroke-linejoin="round">JIJ OOK?</text>
<g transform="translate(952.0,444.4) rotate(0) scale(0.9266)">
<polygon points="-1.2,0 93.6,-61.6 123.5,-61.6 28.6,0" fill="url(#gRoofB)"/>
<polygon points="28.6,0 123.5,-61.6 217.9,0" fill="url(#gRoofF)"/>
<rect x="36.9" y="-0.3" width="143.2" height="45.6" fill="url(#gBody)"/>
<rect x="36.9" y="-0.3" width="28.3" height="45.6" fill="url(#gDoor)"/>
<rect x="36.9" y="51.1" width="28.3" height="29" fill="url(#gYP)"/>
<rect x="65.2" y="51.1" width="114.9" height="29" fill="url(#gYP)"/>
</g>
<linearGradient id="gOP3" x1="1021" x2="1105" y1="0" y2="0" gradientUnits="userSpaceOnUse"><stop offset="0" stop-color="#e9b85e"/><stop offset="0.4" stop-color="#e8806a"/><stop offset="1" stop-color="#e5406b"/></linearGradient>
<rect x="1054.4" y="435.3" width="55.4" height="9.8" rx="1.5" fill="url(#gOP3)"/>
<text x="1060.80" y="444.90" font-size="14.53" font-weight="bold" fill="#fff" textLength="51.30" lengthAdjust="spacingAndGlyphs" stroke="#fff" stroke-width="0.5">SAMEN</text>
<rect x="1021.2" y="453.3" width="88.6" height="9.8" rx="1.5" fill="url(#gOP3)"/>
<text x="1027.90" y="462.90" font-size="14.53" font-weight="bold" fill="#fff" textLength="84.20" lengthAdjust="spacingAndGlyphs" stroke="#fff" stroke-width="0.5">MAKEN WIJ</text>
<rect x="1036.9" y="471.1" width="72.9" height="9.8" rx="1.5" fill="url(#gOP3)"/>
<text x="1043.30" y="480.70" font-size="14.53" font-weight="bold" fill="#fff" textLength="68.80" lengthAdjust="spacingAndGlyphs" stroke="#fff" stroke-width="0.5">DE BUURT</text>
<g filter="url(#fBlur4)" opacity="0.62">
<text x="39.10" y="211.20" font-size="26.16" font-weight="bold" fill="#0c0928" textLength="94.00" lengthAdjust="spacingAndGlyphs" stroke="#0c0928" stroke-width="5" stroke-linejoin="round">IN DE BUURT</text>
</g>
<g filter="url(#fBlur4)" opacity="0.62">
<text x="661.10" y="184.00" font-size="26.16" font-weight="bold" fill="#0c0928" textLength="114.70" lengthAdjust="spacingAndGlyphs" stroke="#0c0928" stroke-width="5" stroke-linejoin="round">VANUIT DE VRAAG</text>
<text x="675.10" y="210.20" font-size="26.16" font-weight="bold" fill="#0c0928" textLength="86.10" lengthAdjust="spacingAndGlyphs" stroke="#0c0928" stroke-width="5" stroke-linejoin="round">SAMEN DOEN</text>
</g>
<g filter="url(#fBlur4)" opacity="0.62">
<text x="717.20" y="739.70" font-size="26.16" font-weight="bold" fill="#0c0928" textLength="75.40" lengthAdjust="spacingAndGlyphs" stroke="#0c0928" stroke-width="5" stroke-linejoin="round">IN EN MET</text>
<text x="717.70" y="766.60" font-size="26.16" font-weight="bold" fill="#0c0928" textLength="74.40" lengthAdjust="spacingAndGlyphs" stroke="#0c0928" stroke-width="5" stroke-linejoin="round">NETWERK</text>
</g>
<g filter="url(#fBlur4)" opacity="0.62">
<text x="142.80" y="825.20" font-size="26.16" font-weight="bold" fill="#0c0928" textLength="77.00" lengthAdjust="spacingAndGlyphs" stroke="#0c0928" stroke-width="5" stroke-linejoin="round">POSITIEVE</text>
<text x="134.20" y="852.30" font-size="26.16" font-weight="bold" fill="#0c0928" textLength="95.50" lengthAdjust="spacingAndGlyphs" stroke="#0c0928" stroke-width="5" stroke-linejoin="round">GEZONDHEID</text>
</g>
<g filter="url(#fBlur4)" opacity="0.62">
<text x="1003.40" y="857.80" font-size="26.16" font-weight="bold" fill="#0c0928" textLength="53.50" lengthAdjust="spacingAndGlyphs" stroke="#0c0928" stroke-width="5" stroke-linejoin="round">VANUIT</text>
<text x="978.50" y="884.80" font-size="26.16" font-weight="bold" fill="#0c0928" textLength="102.90" lengthAdjust="spacingAndGlyphs" stroke="#0c0928" stroke-width="5" stroke-linejoin="round">OPLOSSINGEN</text>
<text x="999.60" y="911.80" font-size="26.16" font-weight="bold" fill="#0c0928" textLength="61.20" lengthAdjust="spacingAndGlyphs" stroke="#0c0928" stroke-width="5" stroke-linejoin="round">DENKEN</text>
</g>
<g transform="translate(34.2,219.2)">
<ellipse cx="5" cy="6" rx="95" ry="84" fill="url(#gHaze)" style="mix-blend-mode:screen"/>
<line x1="-4.5" y1="8.9" x2="-35.8" y2="71.5" stroke="#e8c8e8" stroke-opacity="0.07" stroke-width="1"/>
<line x1="9.5" y1="3.0" x2="229.0" y2="71.7" stroke="#e8c8e8" stroke-opacity="0.08" stroke-width="1"/>
<line x1="-6.6" y1="7.5" x2="-39.9" y2="44.8" stroke="#e8c8e8" stroke-opacity="0.11" stroke-width="1"/>
<line x1="2.2" y1="9.8" x2="13.2" y2="58.5" stroke="#e8c8e8" stroke-opacity="0.07" stroke-width="1"/>
<line x1="9.1" y1="4.2" x2="54.3" y2="25.5" stroke="#e8c8e8" stroke-opacity="0.08" stroke-width="1"/>
<line x1="9.3" y1="3.6" x2="139.8" y2="54.4" stroke="#e8c8e8" stroke-opacity="0.05" stroke-width="1"/>
<line x1="1.7" y1="9.9" x2="31.8" y2="187.3" stroke="#e8c8e8" stroke-opacity="0.09" stroke-width="1"/>
<line x1="9.3" y1="3.8" x2="138.8" y2="56.8" stroke="#e8c8e8" stroke-opacity="0.07" stroke-width="1"/>
<line x1="9.9" y1="-1.5" x2="59.3" y2="-8.9" stroke="#e8c8e8" stroke-opacity="0.08" stroke-width="1"/>
<line x1="6.7" y1="7.4" x2="80.4" y2="89.1" stroke="#e8c8e8" stroke-opacity="0.05" stroke-width="1"/>
<line x1="7.4" y1="6.7" x2="73.8" y2="67.4" stroke="#e8c8e8" stroke-opacity="0.08" stroke-width="1"/>
<line x1="-4.1" y1="-9.1" x2="-24.9" y2="-54.6" stroke="#e8c8e8" stroke-opacity="0.09" stroke-width="1"/>
<line x1="-6.4" y1="-7.7" x2="-64.3" y2="-76.6" stroke="#e8c8e8" stroke-opacity="0.05" stroke-width="1"/>
<line x1="-2.4" y1="-9.7" x2="-35.4" y2="-145.8" stroke="#e8c8e8" stroke-opacity="0.04" stroke-width="1"/>
<line x1="2.7" y1="9.6" x2="51.9" y2="182.8" stroke="#e8c8e8" stroke-opacity="0.08" stroke-width="1"/>
<line x1="1.7" y1="-9.9" x2="20.4" y2="-118.2" stroke="#e8c8e8" stroke-opacity="0.09" stroke-width="1"/>
<line x1="-9.6" y1="2.9" x2="-95.7" y2="29.0" stroke="#e8c8e8" stroke-opacity="0.06" stroke-width="1"/>
<line x1="4.3" y1="9.0" x2="102.5" y2="217.0" stroke="#e8c8e8" stroke-opacity="0.06" stroke-width="1"/>
<line x1="-8.9" y1="-4.5" x2="-133.9" y2="-67.6" stroke="#e8c8e8" stroke-opacity="0.08" stroke-width="1"/>
<line x1="-5.5" y1="8.3" x2="-66.5" y2="99.9" stroke="#e8c8e8" stroke-opacity="0.06" stroke-width="1"/>
<line x1="9.9" y1="-1.2" x2="59.5" y2="-7.5" stroke="#e8c8e8" stroke-opacity="0.08" stroke-width="1"/>
<line x1="5.1" y1="8.6" x2="50.9" y2="86.1" stroke="#e8c8e8" stroke-opacity="0.05" stroke-width="1"/>
<line x1="-10.0" y1="0.7" x2="-59.9" y2="4.2" stroke="#e8c8e8" stroke-opacity="0.12" stroke-width="1"/>
<line x1="8.8" y1="4.7" x2="132.5" y2="70.3" stroke="#e8c8e8" stroke-opacity="0.09" stroke-width="1"/>
<line x1="7.1" y1="-7.0" x2="70.9" y2="-70.5" stroke="#e8c8e8" stroke-opacity="0.07" stroke-width="1"/>
<line x1="-5.9" y1="8.1" x2="-70.6" y2="97.0" stroke="#e8c8e8" stroke-opacity="0.09" stroke-width="1"/>
<line x1="-9.6" y1="2.7" x2="-231.0" y2="65.2" stroke="#e8c8e8" stroke-opacity="0.05" stroke-width="1"/>
<line x1="-1.2" y1="9.9" x2="-23.7" y2="188.5" stroke="#e8c8e8" stroke-opacity="0.09" stroke-width="1"/>
<line x1="9.3" y1="3.7" x2="176.4" y2="70.7" stroke="#e8c8e8" stroke-opacity="0.06" stroke-width="1"/>
<line x1="-8.8" y1="-4.7" x2="-167.7" y2="-89.4" stroke="#e8c8e8" stroke-opacity="0.11" stroke-width="1"/>
<line x1="-2.2" y1="9.8" x2="-25.9" y2="117.2" stroke="#e8c8e8" stroke-opacity="0.11" stroke-width="1"/>
<line x1="-5.7" y1="8.2" x2="-68.7" y2="98.4" stroke="#e8c8e8" stroke-opacity="0.07" stroke-width="1"/>
<line x1="-7.7" y1="-6.4" x2="-92.0" y2="-77.0" stroke="#e8c8e8" stroke-opacity="0.04" stroke-width="1"/>
<line x1="1.1" y1="-9.9" x2="9.1" y2="-79.5" stroke="#e8c8e8" stroke-opacity="0.10" stroke-width="1"/>
<line x1="-8.0" y1="6.0" x2="-192.3" y2="143.6" stroke="#e8c8e8" stroke-opacity="0.08" stroke-width="1"/>
<line x1="5.0" y1="8.7" x2="60.2" y2="103.8" stroke="#e8c8e8" stroke-opacity="0.08" stroke-width="1"/>
<line x1="7.4" y1="-6.7" x2="178.4" y2="-160.5" stroke="#e8c8e8" stroke-opacity="0.07" stroke-width="1"/>
<line x1="-9.5" y1="-3.1" x2="-180.6" y2="-59.0" stroke="#e8c8e8" stroke-opacity="0.07" stroke-width="1"/>
<line x1="-6.3" y1="7.8" x2="-75.8" y2="93.0" stroke="#e8c8e8" stroke-opacity="0.12" stroke-width="1"/>
<line x1="5.8" y1="8.1" x2="46.6" y2="65.0" stroke="#e8c8e8" stroke-opacity="0.05" stroke-width="1"/>
<line x1="-5.4" y1="-8.4" x2="-32.6" y2="-50.4" stroke="#e8c8e8" stroke-opacity="0.08" stroke-width="1"/>
<line x1="-8.5" y1="-5.3" x2="-84.7" y2="-53.1" stroke="#e8c8e8" stroke-opacity="0.06" stroke-width="1"/>
<line x1="6.1" y1="7.9" x2="91.4" y2="118.9" stroke="#e8c8e8" stroke-opacity="0.07" stroke-width="1"/>
<line x1="-9.1" y1="-4.0" x2="-73.2" y2="-32.4" stroke="#e8c8e8" stroke-opacity="0.10" stroke-width="1"/>
<line x1="-10.0" y1="-1.0" x2="-149.3" y2="-14.6" stroke="#e8c8e8" stroke-opacity="0.09" stroke-width="1"/>
<line x1="-0.6" y1="-10.0" x2="-7.7" y2="-119.8" stroke="#e8c8e8" stroke-opacity="0.11" stroke-width="1"/>
<line x1="30" y1="-6" x2="200" y2="-9.600000000000001" stroke="#c8b0e0" stroke-opacity="0.10" stroke-width="1"/>
<line x1="30" y1="0" x2="200" y2="0.0" stroke="#c8b0e0" stroke-opacity="0.10" stroke-width="1"/>
<line x1="30" y1="6" x2="200" y2="9.600000000000001" stroke="#c8b0e0" stroke-opacity="0.10" stroke-width="1"/>
<circle r="36" fill="none" stroke="#d8485e" stroke-opacity="0.75" stroke-width="1.3"/>
<circle r="36" fill="#a070c0" fill-opacity="0.10"/>
<circle r="37" fill="url(#gGlow)"/>
</g>
<g transform="translate(660.6,189.1)">
<ellipse cx="5" cy="6" rx="95" ry="84" fill="url(#gHaze)" style="mix-blend-mode:screen"/>
<line x1="1.9" y1="-9.8" x2="44.9" y2="-235.8" stroke="#e8c8e8" stroke-opacity="0.09" stroke-width="1"/>
<line x1="-9.3" y1="-3.6" x2="-111.8" y2="-43.7" stroke="#e8c8e8" stroke-opacity="0.07" stroke-width="1"/>
<line x1="8.0" y1="6.1" x2="151.2" y2="115.1" stroke="#e8c8e8" stroke-opacity="0.07" stroke-width="1"/>
<line x1="3.6" y1="9.3" x2="29.2" y2="74.5" stroke="#e8c8e8" stroke-opacity="0.08" stroke-width="1"/>
<line x1="7.7" y1="6.4" x2="115.6" y2="95.6" stroke="#e8c8e8" stroke-opacity="0.04" stroke-width="1"/>
<line x1="10.0" y1="0.0" x2="80.0" y2="0.1" stroke="#e8c8e8" stroke-opacity="0.08" stroke-width="1"/>
<line x1="9.5" y1="-3.2" x2="142.3" y2="-47.3" stroke="#e8c8e8" stroke-opacity="0.04" stroke-width="1"/>
<line x1="7.0" y1="-7.1" x2="105.6" y2="-106.5" stroke="#e8c8e8" stroke-opacity="0.07" stroke-width="1"/>
<line x1="-6.6" y1="-7.5" x2="-66.4" y2="-74.8" stroke="#e8c8e8" stroke-opacity="0.09" stroke-width="1"/>
<line x1="-9.9" y1="1.6" x2="-59.2" y2="9.7" stroke="#e8c8e8" stroke-opacity="0.11" stroke-width="1"/>
<line x1="10.0" y1="-0.4" x2="119.9" y2="-5.2" stroke="#e8c8e8" stroke-opacity="0.08" stroke-width="1"/>
<line x1="-3.8" y1="9.3" x2="-30.3" y2="74.0" stroke="#e8c8e8" stroke-opacity="0.05" stroke-width="1"/>
<line x1="-5.5" y1="8.4" x2="-55.0" y2="83.5" stroke="#e8c8e8" stroke-opacity="0.08" stroke-width="1"/>
<line x1="-3.6" y1="-9.3" x2="-53.4" y2="-140.2" stroke="#e8c8e8" stroke-opacity="0.04" stroke-width="1"/>
<line x1="9.5" y1="-3.0" x2="142.9" y2="-45.5" stroke="#e8c8e8" stroke-opacity="0.07" stroke-width="1"/>
<line x1="-3.7" y1="-9.3" x2="-22.1" y2="-55.8" stroke="#e8c8e8" stroke-opacity="0.10" stroke-width="1"/>
<line x1="-3.0" y1="9.5" x2="-56.5" y2="181.4" stroke="#e8c8e8" stroke-opacity="0.11" stroke-width="1"/>
<line x1="-3.3" y1="-9.4" x2="-33.2" y2="-94.3" stroke="#e8c8e8" stroke-opacity="0.08" stroke-width="1"/>
<line x1="8.4" y1="-5.5" x2="83.8" y2="-54.5" stroke="#e8c8e8" stroke-opacity="0.10" stroke-width="1"/>
<line x1="-9.8" y1="-2.0" x2="-235.0" y2="-48.8" stroke="#e8c8e8" stroke-opacity="0.08" stroke-width="1"/>
<line x1="-6.5" y1="-7.6" x2="-98.2" y2="-113.4" stroke="#e8c8e8" stroke-opacity="0.10" stroke-width="1"/>
<line x1="10.0" y1="-0.9" x2="238.9" y2="-22.7" stroke="#e8c8e8" stroke-opacity="0.06" stroke-width="1"/>
<line x1="0.7" y1="10.0" x2="8.0" y2="119.7" stroke="#e8c8e8" stroke-opacity="0.10" stroke-width="1"/>
<line x1="1.5" y1="9.9" x2="21.8" y2="148.4" stroke="#e8c8e8" stroke-opacity="0.08" stroke-width="1"/>
<line x1="-1.2" y1="-9.9" x2="-7.1" y2="-59.6" stroke="#e8c8e8" stroke-opacity="0.10" stroke-width="1"/>
<line x1="-9.8" y1="1.7" x2="-78.8" y2="13.9" stroke="#e8c8e8" stroke-opacity="0.10" stroke-width="1"/>
<line x1="9.6" y1="-2.7" x2="115.5" y2="-32.4" stroke="#e8c8e8" stroke-opacity="0.10" stroke-width="1"/>
<line x1="-1.7" y1="-9.9" x2="-16.8" y2="-98.6" stroke="#e8c8e8" stroke-opacity="0.12" stroke-width="1"/>
<line x1="-6.6" y1="7.5" x2="-52.8" y2="60.1" stroke="#e8c8e8" stroke-opacity="0.05" stroke-width="1"/>
<line x1="-9.8" y1="1.9" x2="-98.2" y2="18.7" stroke="#e8c8e8" stroke-opacity="0.06" stroke-width="1"/>
<line x1="-7.1" y1="-7.0" x2="-106.7" y2="-105.4" stroke="#e8c8e8" stroke-opacity="0.11" stroke-width="1"/>
<line x1="-9.9" y1="1.3" x2="-188.4" y2="24.4" stroke="#e8c8e8" stroke-opacity="0.07" stroke-width="1"/>
<line x1="-6.2" y1="-7.8" x2="-149.3" y2="-187.9" stroke="#e8c8e8" stroke-opacity="0.09" stroke-width="1"/>
<line x1="8.4" y1="-5.4" x2="202.5" y2="-128.9" stroke="#e8c8e8" stroke-opacity="0.10" stroke-width="1"/>
<line x1="3.1" y1="9.5" x2="25.0" y2="76.0" stroke="#e8c8e8" stroke-opacity="0.07" stroke-width="1"/>
<line x1="-6.6" y1="-7.5" x2="-39.4" y2="-45.2" stroke="#e8c8e8" stroke-opacity="0.10" stroke-width="1"/>
<line x1="9.8" y1="-1.8" x2="118.1" y2="-21.3" stroke="#e8c8e8" stroke-opacity="0.08" stroke-width="1"/>
<line x1="-0.4" y1="-10.0" x2="-2.5" y2="-59.9" stroke="#e8c8e8" stroke-opacity="0.10" stroke-width="1"/>
<line x1="4.8" y1="8.8" x2="38.5" y2="70.1" stroke="#e8c8e8" stroke-opacity="0.04" stroke-width="1"/>
<line x1="-8.4" y1="-5.4" x2="-101.0" y2="-64.8" stroke="#e8c8e8" stroke-opacity="0.10" stroke-width="1"/>
<line x1="6.1" y1="7.9" x2="145.7" y2="190.7" stroke="#e8c8e8" stroke-opacity="0.09" stroke-width="1"/>
<line x1="-9.9" y1="1.6" x2="-98.7" y2="16.0" stroke="#e8c8e8" stroke-opacity="0.05" stroke-width="1"/>
<line x1="-9.5" y1="-3.0" x2="-57.3" y2="-17.9" stroke="#e8c8e8" stroke-opacity="0.04" stroke-width="1"/>
<line x1="9.8" y1="-1.8" x2="186.8" y2="-34.6" stroke="#e8c8e8" stroke-opacity="0.05" stroke-width="1"/>
<line x1="-0.0" y1="-10.0" x2="-0.3" y2="-80.0" stroke="#e8c8e8" stroke-opacity="0.07" stroke-width="1"/>
<line x1="6.9" y1="-7.2" x2="166.2" y2="-173.1" stroke="#e8c8e8" stroke-opacity="0.11" stroke-width="1"/>
<line x1="30" y1="-6" x2="200" y2="-9.600000000000001" stroke="#c8b0e0" stroke-opacity="0.10" stroke-width="1"/>
<line x1="30" y1="0" x2="200" y2="0.0" stroke="#c8b0e0" stroke-opacity="0.10" stroke-width="1"/>
<line x1="30" y1="6" x2="200" y2="9.600000000000001" stroke="#c8b0e0" stroke-opacity="0.10" stroke-width="1"/>
<circle r="36" fill="none" stroke="#d8485e" stroke-opacity="0.75" stroke-width="1.3"/>
<circle r="36" fill="#a070c0" fill-opacity="0.10"/>
<circle r="37" fill="url(#gGlow)"/>
</g>
<g transform="translate(700.6,765.1)">
<ellipse cx="5" cy="6" rx="95" ry="84" fill="url(#gHaze)" style="mix-blend-mode:screen"/>
<line x1="9.8" y1="1.7" x2="78.8" y2="14.0" stroke="#e8c8e8" stroke-opacity="0.06" stroke-width="1"/>
<line x1="0.6" y1="10.0" x2="8.9" y2="149.7" stroke="#e8c8e8" stroke-opacity="0.07" stroke-width="1"/>
<line x1="-9.6" y1="-2.8" x2="-230.7" y2="-66.0" stroke="#e8c8e8" stroke-opacity="0.05" stroke-width="1"/>
<line x1="8.4" y1="-5.4" x2="84.4" y2="-53.6" stroke="#e8c8e8" stroke-opacity="0.11" stroke-width="1"/>
<line x1="-5.2" y1="-8.5" x2="-125.4" y2="-204.6" stroke="#e8c8e8" stroke-opacity="0.11" stroke-width="1"/>
<line x1="-8.8" y1="4.8" x2="-131.7" y2="71.7" stroke="#e8c8e8" stroke-opacity="0.05" stroke-width="1"/>
<line x1="5.8" y1="8.2" x2="86.8" y2="122.4" stroke="#e8c8e8" stroke-opacity="0.04" stroke-width="1"/>
<line x1="-9.3" y1="3.7" x2="-74.4" y2="29.4" stroke="#e8c8e8" stroke-opacity="0.09" stroke-width="1"/>
<line x1="1.6" y1="-9.9" x2="13.0" y2="-78.9" stroke="#e8c8e8" stroke-opacity="0.05" stroke-width="1"/>
<line x1="-9.9" y1="1.7" x2="-187.4" y2="31.5" stroke="#e8c8e8" stroke-opacity="0.05" stroke-width="1"/>
<line x1="9.3" y1="3.8" x2="175.9" y2="71.9" stroke="#e8c8e8" stroke-opacity="0.08" stroke-width="1"/>
<line x1="-9.4" y1="-3.4" x2="-225.6" y2="-81.9" stroke="#e8c8e8" stroke-opacity="0.10" stroke-width="1"/>
<line x1="7.4" y1="-6.7" x2="44.6" y2="-40.2" stroke="#e8c8e8" stroke-opacity="0.06" stroke-width="1"/>
<line x1="-1.7" y1="9.9" x2="-40.4" y2="236.6" stroke="#e8c8e8" stroke-opacity="0.05" stroke-width="1"/>
<line x1="-9.6" y1="3.0" x2="-57.3" y2="17.8" stroke="#e8c8e8" stroke-opacity="0.10" stroke-width="1"/>
<line x1="8.5" y1="-5.2" x2="102.3" y2="-62.7" stroke="#e8c8e8" stroke-opacity="0.07" stroke-width="1"/>
<line x1="9.9" y1="-1.7" x2="147.9" y2="-25.0" stroke="#e8c8e8" stroke-opacity="0.08" stroke-width="1"/>
<line x1="-3.5" y1="-9.4" x2="-42.3" y2="-112.3" stroke="#e8c8e8" stroke-opacity="0.08" stroke-width="1"/>
<line x1="3.5" y1="-9.4" x2="52.9" y2="-140.4" stroke="#e8c8e8" stroke-opacity="0.12" stroke-width="1"/>
<line x1="-3.1" y1="-9.5" x2="-31.4" y2="-95.0" stroke="#e8c8e8" stroke-opacity="0.11" stroke-width="1"/>
<line x1="7.8" y1="-6.2" x2="62.5" y2="-49.9" stroke="#e8c8e8" stroke-opacity="0.11" stroke-width="1"/>
<line x1="6.5" y1="7.6" x2="39.1" y2="45.5" stroke="#e8c8e8" stroke-opacity="0.07" stroke-width="1"/>
<line x1="-4.0" y1="9.2" x2="-76.5" y2="173.9" stroke="#e8c8e8" stroke-opacity="0.06" stroke-width="1"/>
<line x1="9.0" y1="4.4" x2="170.3" y2="84.3" stroke="#e8c8e8" stroke-opacity="0.06" stroke-width="1"/>
<line x1="7.2" y1="7.0" x2="172.5" y2="166.9" stroke="#e8c8e8" stroke-opacity="0.05" stroke-width="1"/>
<line x1="-2.1" y1="-9.8" x2="-40.1" y2="-185.7" stroke="#e8c8e8" stroke-opacity="0.07" stroke-width="1"/>
<line x1="-0.2" y1="10.0" x2="-1.6" y2="80.0" stroke="#e8c8e8" stroke-opacity="0.12" stroke-width="1"/>
<line x1="1.9" y1="9.8" x2="11.4" y2="58.9" stroke="#e8c8e8" stroke-opacity="0.07" stroke-width="1"/>
<line x1="-10.0" y1="0.8" x2="-189.4" y2="15.2" stroke="#e8c8e8" stroke-opacity="0.11" stroke-width="1"/>
<line x1="5.3" y1="8.5" x2="63.4" y2="101.9" stroke="#e8c8e8" stroke-opacity="0.12" stroke-width="1"/>
<line x1="-8.2" y1="5.7" x2="-98.7" y2="68.2" stroke="#e8c8e8" stroke-opacity="0.06" stroke-width="1"/>
<line x1="-4.2" y1="9.1" x2="-79.3" y2="172.7" stroke="#e8c8e8" stroke-opacity="0.07" stroke-width="1"/>
<line x1="-5.3" y1="8.5" x2="-63.0" y2="102.1" stroke="#e8c8e8" stroke-opacity="0.08" stroke-width="1"/>
<line x1="9.9" y1="1.1" x2="99.4" y2="11.3" stroke="#e8c8e8" stroke-opacity="0.08" stroke-width="1"/>
<line x1="-2.8" y1="9.6" x2="-16.9" y2="57.6" stroke="#e8c8e8" stroke-opacity="0.05" stroke-width="1"/>
<line x1="8.7" y1="-4.9" x2="69.8" y2="-39.2" stroke="#e8c8e8" stroke-opacity="0.12" stroke-width="1"/>
<line x1="7.9" y1="6.1" x2="79.1" y2="61.2" stroke="#e8c8e8" stroke-opacity="0.06" stroke-width="1"/>
<line x1="8.3" y1="-5.6" x2="66.4" y2="-44.6" stroke="#e8c8e8" stroke-opacity="0.06" stroke-width="1"/>
<line x1="6.9" y1="7.3" x2="82.4" y2="87.2" stroke="#e8c8e8" stroke-opacity="0.11" stroke-width="1"/>
<line x1="-4.5" y1="-8.9" x2="-44.9" y2="-89.4" stroke="#e8c8e8" stroke-opacity="0.07" stroke-width="1"/>
<line x1="-9.7" y1="-2.3" x2="-146.1" y2="-34.2" stroke="#e8c8e8" stroke-opacity="0.09" stroke-width="1"/>
<line x1="-3.1" y1="-9.5" x2="-18.4" y2="-57.1" stroke="#e8c8e8" stroke-opacity="0.06" stroke-width="1"/>
<line x1="3.1" y1="-9.5" x2="24.5" y2="-76.1" stroke="#e8c8e8" stroke-opacity="0.07" stroke-width="1"/>
<line x1="9.0" y1="4.4" x2="53.9" y2="26.4" stroke="#e8c8e8" stroke-opacity="0.09" stroke-width="1"/>
<line x1="3.2" y1="-9.5" x2="19.1" y2="-56.9" stroke="#e8c8e8" stroke-opacity="0.09" stroke-width="1"/>
<line x1="1.7" y1="9.9" x2="17.2" y2="98.5" stroke="#e8c8e8" stroke-opacity="0.11" stroke-width="1"/>
<line x1="30" y1="-6" x2="200" y2="-9.600000000000001" stroke="#c8b0e0" stroke-opacity="0.10" stroke-width="1"/>
<line x1="30" y1="0" x2="200" y2="0.0" stroke="#c8b0e0" stroke-opacity="0.10" stroke-width="1"/>
<line x1="30" y1="6" x2="200" y2="9.600000000000001" stroke="#c8b0e0" stroke-opacity="0.10" stroke-width="1"/>
<circle r="36" fill="none" stroke="#d8485e" stroke-opacity="0.75" stroke-width="1.3"/>
<circle r="36" fill="#a070c0" fill-opacity="0.10"/>
<circle r="37" fill="url(#gGlow)"/>
</g>
<g transform="translate(126.9,851.4)">
<ellipse cx="5" cy="6" rx="95" ry="84" fill="url(#gHaze)" style="mix-blend-mode:screen"/>
<line x1="-9.6" y1="2.9" x2="-95.8" y2="28.6" stroke="#e8c8e8" stroke-opacity="0.12" stroke-width="1"/>
<line x1="-8.7" y1="4.9" x2="-86.9" y2="49.4" stroke="#e8c8e8" stroke-opacity="0.09" stroke-width="1"/>
<line x1="9.6" y1="2.7" x2="183.0" y2="50.9" stroke="#e8c8e8" stroke-opacity="0.06" stroke-width="1"/>
<line x1="7.7" y1="6.3" x2="61.8" y2="50.8" stroke="#e8c8e8" stroke-opacity="0.06" stroke-width="1"/>
<line x1="4.2" y1="9.1" x2="41.9" y2="90.8" stroke="#e8c8e8" stroke-opacity="0.09" stroke-width="1"/>
<line x1="-9.8" y1="-1.9" x2="-78.5" y2="-15.5" stroke="#e8c8e8" stroke-opacity="0.06" stroke-width="1"/>
<line x1="-10.0" y1="-0.0" x2="-80.0" y2="-0.0" stroke="#e8c8e8" stroke-opacity="0.06" stroke-width="1"/>
<line x1="3.3" y1="-9.4" x2="33.1" y2="-94.4" stroke="#e8c8e8" stroke-opacity="0.04" stroke-width="1"/>
<line x1="9.9" y1="1.2" x2="149.0" y2="17.3" stroke="#e8c8e8" stroke-opacity="0.08" stroke-width="1"/>
<line x1="3.7" y1="9.3" x2="44.6" y2="111.4" stroke="#e8c8e8" stroke-opacity="0.06" stroke-width="1"/>
<line x1="-9.5" y1="3.3" x2="-179.6" y2="62.0" stroke="#e8c8e8" stroke-opacity="0.11" stroke-width="1"/>
<line x1="-9.1" y1="4.1" x2="-109.3" y2="49.6" stroke="#e8c8e8" stroke-opacity="0.08" stroke-width="1"/>
<line x1="7.7" y1="-6.4" x2="114.8" y2="-96.5" stroke="#e8c8e8" stroke-opacity="0.06" stroke-width="1"/>
<line x1="2.2" y1="9.8" x2="17.4" y2="78.1" stroke="#e8c8e8" stroke-opacity="0.07" stroke-width="1"/>
<line x1="4.9" y1="-8.7" x2="93.9" y2="-165.2" stroke="#e8c8e8" stroke-opacity="0.10" stroke-width="1"/>
<line x1="6.4" y1="7.7" x2="63.9" y2="76.9" stroke="#e8c8e8" stroke-opacity="0.12" stroke-width="1"/>
<line x1="5.2" y1="-8.5" x2="31.2" y2="-51.3" stroke="#e8c8e8" stroke-opacity="0.05" stroke-width="1"/>
<line x1="-0.6" y1="-10.0" x2="-5.7" y2="-99.8" stroke="#e8c8e8" stroke-opacity="0.07" stroke-width="1"/>
<line x1="9.4" y1="3.4" x2="178.6" y2="64.8" stroke="#e8c8e8" stroke-opacity="0.11" stroke-width="1"/>
<line x1="6.9" y1="-7.3" x2="130.5" y2="-138.1" stroke="#e8c8e8" stroke-opacity="0.12" stroke-width="1"/>
<line x1="-8.1" y1="-5.8" x2="-154.6" y2="-110.5" stroke="#e8c8e8" stroke-opacity="0.06" stroke-width="1"/>
<line x1="-9.7" y1="2.5" x2="-77.4" y2="20.2" stroke="#e8c8e8" stroke-opacity="0.06" stroke-width="1"/>
<line x1="10.0" y1="0.2" x2="100.0" y2="2.3" stroke="#e8c8e8" stroke-opacity="0.12" stroke-width="1"/>
<line x1="9.9" y1="-1.7" x2="147.8" y2="-25.7" stroke="#e8c8e8" stroke-opacity="0.07" stroke-width="1"/>
<line x1="9.8" y1="2.1" x2="97.7" y2="21.5" stroke="#e8c8e8" stroke-opacity="0.06" stroke-width="1"/>
<line x1="4.1" y1="9.1" x2="40.9" y2="91.3" stroke="#e8c8e8" stroke-opacity="0.07" stroke-width="1"/>
<line x1="-9.9" y1="1.6" x2="-148.1" y2="23.8" stroke="#e8c8e8" stroke-opacity="0.09" stroke-width="1"/>
<line x1="0.1" y1="10.0" x2="2.7" y2="240.0" stroke="#e8c8e8" stroke-opacity="0.04" stroke-width="1"/>
<line x1="-0.9" y1="10.0" x2="-5.3" y2="59.8" stroke="#e8c8e8" stroke-opacity="0.05" stroke-width="1"/>
<line x1="-8.5" y1="-5.2" x2="-102.6" y2="-62.2" stroke="#e8c8e8" stroke-opacity="0.04" stroke-width="1"/>
<line x1="-3.3" y1="9.4" x2="-26.7" y2="75.4" stroke="#e8c8e8" stroke-opacity="0.05" stroke-width="1"/>
<line x1="9.6" y1="-2.6" x2="231.5" y2="-63.1" stroke="#e8c8e8" stroke-opacity="0.10" stroke-width="1"/>
<line x1="-5.5" y1="-8.4" x2="-104.3" y2="-158.8" stroke="#e8c8e8" stroke-opacity="0.10" stroke-width="1"/>
<line x1="-8.2" y1="-5.7" x2="-197.2" y2="-136.8" stroke="#e8c8e8" stroke-opacity="0.07" stroke-width="1"/>
<line x1="10.0" y1="-1.0" x2="79.6" y2="-7.7" stroke="#e8c8e8" stroke-opacity="0.06" stroke-width="1"/>
<line x1="-7.3" y1="-6.8" x2="-58.8" y2="-54.3" stroke="#e8c8e8" stroke-opacity="0.04" stroke-width="1"/>
<line x1="5.1" y1="-8.6" x2="76.6" y2="-129.0" stroke="#e8c8e8" stroke-opacity="0.09" stroke-width="1"/>
<line x1="-1.0" y1="-9.9" x2="-24.3" y2="-238.8" stroke="#e8c8e8" stroke-opacity="0.08" stroke-width="1"/>
<line x1="8.4" y1="-5.4" x2="202.5" y2="-128.7" stroke="#e8c8e8" stroke-opacity="0.08" stroke-width="1"/>
<line x1="5.1" y1="-8.6" x2="122.1" y2="-206.6" stroke="#e8c8e8" stroke-opacity="0.04" stroke-width="1"/>
<line x1="-3.9" y1="-9.2" x2="-93.3" y2="-221.1" stroke="#e8c8e8" stroke-opacity="0.11" stroke-width="1"/>
<line x1="-4.1" y1="-9.1" x2="-77.8" y2="-173.4" stroke="#e8c8e8" stroke-opacity="0.09" stroke-width="1"/>
<line x1="8.6" y1="5.1" x2="51.6" y2="30.6" stroke="#e8c8e8" stroke-opacity="0.05" stroke-width="1"/>
<line x1="-6.4" y1="7.7" x2="-38.5" y2="46.1" stroke="#e8c8e8" stroke-opacity="0.07" stroke-width="1"/>
<line x1="-9.5" y1="3.0" x2="-57.2" y2="18.0" stroke="#e8c8e8" stroke-opacity="0.09" stroke-width="1"/>
<line x1="-7.0" y1="-7.1" x2="-133.3" y2="-135.4" stroke="#e8c8e8" stroke-opacity="0.06" stroke-width="1"/>
<line x1="30" y1="-6" x2="200" y2="-9.600000000000001" stroke="#c8b0e0" stroke-opacity="0.10" stroke-width="1"/>
<line x1="30" y1="0" x2="200" y2="0.0" stroke="#c8b0e0" stroke-opacity="0.10" stroke-width="1"/>
<line x1="30" y1="6" x2="200" y2="9.600000000000001" stroke="#c8b0e0" stroke-opacity="0.10" stroke-width="1"/>
<circle r="36" fill="none" stroke="#d8485e" stroke-opacity="0.75" stroke-width="1.3"/>
<circle r="36" fill="#a070c0" fill-opacity="0.10"/>
<circle r="37" fill="url(#gGlow)"/>
</g>
<g transform="translate(944.8,882.3)">
<ellipse cx="5" cy="6" rx="95" ry="84" fill="url(#gHaze)" style="mix-blend-mode:screen"/>
<line x1="-0.9" y1="10.0" x2="-10.4" y2="119.5" stroke="#e8c8e8" stroke-opacity="0.10" stroke-width="1"/>
<line x1="-0.1" y1="-10.0" x2="-1.6" y2="-150.0" stroke="#e8c8e8" stroke-opacity="0.11" stroke-width="1"/>
<line x1="8.4" y1="5.5" x2="125.7" y2="81.9" stroke="#e8c8e8" stroke-opacity="0.05" stroke-width="1"/>
<line x1="-0.8" y1="-10.0" x2="-8.3" y2="-99.7" stroke="#e8c8e8" stroke-opacity="0.10" stroke-width="1"/>
<line x1="5.7" y1="-8.2" x2="45.4" y2="-65.8" stroke="#e8c8e8" stroke-opacity="0.10" stroke-width="1"/>
<line x1="2.8" y1="9.6" x2="52.8" y2="182.5" stroke="#e8c8e8" stroke-opacity="0.09" stroke-width="1"/>
<line x1="-9.7" y1="2.5" x2="-232.6" y2="59.2" stroke="#e8c8e8" stroke-opacity="0.07" stroke-width="1"/>
<line x1="-9.9" y1="1.3" x2="-188.4" y2="25.0" stroke="#e8c8e8" stroke-opacity="0.06" stroke-width="1"/>
<line x1="9.6" y1="2.9" x2="181.9" y2="55.0" stroke="#e8c8e8" stroke-opacity="0.09" stroke-width="1"/>
<line x1="8.8" y1="4.7" x2="70.7" y2="37.4" stroke="#e8c8e8" stroke-opacity="0.07" stroke-width="1"/>
<line x1="-5.8" y1="-8.1" x2="-110.2" y2="-154.8" stroke="#e8c8e8" stroke-opacity="0.06" stroke-width="1"/>
<line x1="-9.1" y1="-4.1" x2="-54.6" y2="-24.8" stroke="#e8c8e8" stroke-opacity="0.08" stroke-width="1"/>
<line x1="-10.0" y1="0.9" x2="-189.2" y2="16.9" stroke="#e8c8e8" stroke-opacity="0.05" stroke-width="1"/>
<line x1="2.0" y1="9.8" x2="24.2" y2="117.5" stroke="#e8c8e8" stroke-opacity="0.06" stroke-width="1"/>
<line x1="-9.9" y1="-1.0" x2="-119.4" y2="-12.4" stroke="#e8c8e8" stroke-opacity="0.08" stroke-width="1"/>
<line x1="1.1" y1="-9.9" x2="16.2" y2="-149.1" stroke="#e8c8e8" stroke-opacity="0.06" stroke-width="1"/>
<line x1="9.9" y1="-1.4" x2="118.9" y2="-16.4" stroke="#e8c8e8" stroke-opacity="0.04" stroke-width="1"/>
<line x1="-9.7" y1="2.5" x2="-232.1" y2="61.2" stroke="#e8c8e8" stroke-opacity="0.08" stroke-width="1"/>
<line x1="10.0" y1="-0.3" x2="99.9" y2="-3.4" stroke="#e8c8e8" stroke-opacity="0.07" stroke-width="1"/>
<line x1="8.7" y1="-5.0" x2="69.3" y2="-40.0" stroke="#e8c8e8" stroke-opacity="0.05" stroke-width="1"/>
<line x1="8.4" y1="5.4" x2="160.2" y2="102.1" stroke="#e8c8e8" stroke-opacity="0.08" stroke-width="1"/>
<line x1="9.6" y1="-2.9" x2="76.5" y2="-23.4" stroke="#e8c8e8" stroke-opacity="0.09" stroke-width="1"/>
<line x1="-6.8" y1="-7.4" x2="-67.7" y2="-73.6" stroke="#e8c8e8" stroke-opacity="0.11" stroke-width="1"/>
<line x1="-2.9" y1="-9.6" x2="-23.1" y2="-76.6" stroke="#e8c8e8" stroke-opacity="0.08" stroke-width="1"/>
<line x1="7.1" y1="-7.0" x2="85.5" y2="-84.2" stroke="#e8c8e8" stroke-opacity="0.04" stroke-width="1"/>
<line x1="10.0" y1="0.2" x2="120.0" y2="2.7" stroke="#e8c8e8" stroke-opacity="0.09" stroke-width="1"/>
<line x1="-8.3" y1="5.6" x2="-157.4" y2="106.4" stroke="#e8c8e8" stroke-opacity="0.05" stroke-width="1"/>
<line x1="-5.6" y1="8.3" x2="-55.7" y2="83.1" stroke="#e8c8e8" stroke-opacity="0.05" stroke-width="1"/>
<line x1="-4.9" y1="8.7" x2="-48.9" y2="87.2" stroke="#e8c8e8" stroke-opacity="0.10" stroke-width="1"/>
<line x1="5.3" y1="-8.5" x2="31.9" y2="-50.8" stroke="#e8c8e8" stroke-opacity="0.12" stroke-width="1"/>
<line x1="3.3" y1="9.4" x2="20.1" y2="56.5" stroke="#e8c8e8" stroke-opacity="0.11" stroke-width="1"/>
<line x1="-2.5" y1="9.7" x2="-24.8" y2="96.9" stroke="#e8c8e8" stroke-opacity="0.05" stroke-width="1"/>
<line x1="-7.7" y1="6.4" x2="-185.1" y2="152.8" stroke="#e8c8e8" stroke-opacity="0.09" stroke-width="1"/>
<line x1="-6.4" y1="7.7" x2="-76.9" y2="92.1" stroke="#e8c8e8" stroke-opacity="0.10" stroke-width="1"/>
<line x1="6.1" y1="-7.9" x2="60.9" y2="-79.3" stroke="#e8c8e8" stroke-opacity="0.05" stroke-width="1"/>
<line x1="5.1" y1="-8.6" x2="50.7" y2="-86.2" stroke="#e8c8e8" stroke-opacity="0.09" stroke-width="1"/>
<line x1="5.9" y1="8.0" x2="59.3" y2="80.5" stroke="#e8c8e8" stroke-opacity="0.07" stroke-width="1"/>
<line x1="-4.0" y1="9.2" x2="-96.1" y2="219.9" stroke="#e8c8e8" stroke-opacity="0.07" stroke-width="1"/>
<line x1="9.6" y1="-2.7" x2="57.7" y2="-16.3" stroke="#e8c8e8" stroke-opacity="0.10" stroke-width="1"/>
<line x1="-6.8" y1="-7.3" x2="-102.1" y2="-109.9" stroke="#e8c8e8" stroke-opacity="0.08" stroke-width="1"/>
<line x1="-1.9" y1="-9.8" x2="-11.4" y2="-58.9" stroke="#e8c8e8" stroke-opacity="0.11" stroke-width="1"/>
<line x1="-8.5" y1="5.3" x2="-127.1" y2="79.7" stroke="#e8c8e8" stroke-opacity="0.10" stroke-width="1"/>
<line x1="-6.2" y1="-7.9" x2="-61.5" y2="-78.8" stroke="#e8c8e8" stroke-opacity="0.08" stroke-width="1"/>
<line x1="8.5" y1="-5.3" x2="127.6" y2="-78.9" stroke="#e8c8e8" stroke-opacity="0.05" stroke-width="1"/>
<line x1="-9.8" y1="1.7" x2="-98.5" y2="17.4" stroke="#e8c8e8" stroke-opacity="0.06" stroke-width="1"/>
<line x1="-0.4" y1="10.0" x2="-6.9" y2="189.9" stroke="#e8c8e8" stroke-opacity="0.12" stroke-width="1"/>
<line x1="30" y1="-6" x2="200" y2="-9.600000000000001" stroke="#c8b0e0" stroke-opacity="0.10" stroke-width="1"/>
<line x1="30" y1="0" x2="200" y2="0.0" stroke="#c8b0e0" stroke-opacity="0.10" stroke-width="1"/>
<line x1="30" y1="6" x2="200" y2="9.600000000000001" stroke="#c8b0e0" stroke-opacity="0.10" stroke-width="1"/>
<circle r="36" fill="none" stroke="#d8485e" stroke-opacity="0.75" stroke-width="1.3"/>
<circle r="36" fill="#a070c0" fill-opacity="0.10"/>
<circle r="37" fill="url(#gGlow)"/>
</g>
<text x="28.65" y="203.20" font-size="26.16" font-weight="bold" fill="#fff" textLength="94.00" lengthAdjust="spacingAndGlyphs" >IN DE BUURT</text>
<text x="29.10" y="203.20" font-size="26.16" font-weight="bold" fill="#fff" textLength="94.00" lengthAdjust="spacingAndGlyphs" >IN DE BUURT</text>
<text x="29.55" y="203.20" font-size="26.16" font-weight="bold" fill="#fff" textLength="94.00" lengthAdjust="spacingAndGlyphs" >IN DE BUURT</text>
<text x="650.65" y="176.00" font-size="26.16" font-weight="bold" fill="#fff" textLength="114.70" lengthAdjust="spacingAndGlyphs" >VANUIT DE VRAAG</text>
<text x="651.10" y="176.00" font-size="26.16" font-weight="bold" fill="#fff" textLength="114.70" lengthAdjust="spacingAndGlyphs" >VANUIT DE VRAAG</text>
<text x="651.55" y="176.00" font-size="26.16" font-weight="bold" fill="#fff" textLength="114.70" lengthAdjust="spacingAndGlyphs" >VANUIT DE VRAAG</text>
<text x="664.65" y="202.20" font-size="26.16" font-weight="bold" fill="#fff" textLength="86.10" lengthAdjust="spacingAndGlyphs" >SAMEN DOEN</text>
<text x="665.10" y="202.20" font-size="26.16" font-weight="bold" fill="#fff" textLength="86.10" lengthAdjust="spacingAndGlyphs" >SAMEN DOEN</text>
<text x="665.55" y="202.20" font-size="26.16" font-weight="bold" fill="#fff" textLength="86.10" lengthAdjust="spacingAndGlyphs" >SAMEN DOEN</text>
<text x="706.75" y="731.70" font-size="26.16" font-weight="bold" fill="#fff" textLength="75.40" lengthAdjust="spacingAndGlyphs" >IN EN MET</text>
<text x="707.20" y="731.70" font-size="26.16" font-weight="bold" fill="#fff" textLength="75.40" lengthAdjust="spacingAndGlyphs" >IN EN MET</text>
<text x="707.65" y="731.70" font-size="26.16" font-weight="bold" fill="#fff" textLength="75.40" lengthAdjust="spacingAndGlyphs" >IN EN MET</text>
<text x="707.25" y="758.60" font-size="26.16" font-weight="bold" fill="#fff" textLength="74.40" lengthAdjust="spacingAndGlyphs" >NETWERK</text>
<text x="707.70" y="758.60" font-size="26.16" font-weight="bold" fill="#fff" textLength="74.40" lengthAdjust="spacingAndGlyphs" >NETWERK</text>
<text x="708.15" y="758.60" font-size="26.16" font-weight="bold" fill="#fff" textLength="74.40" lengthAdjust="spacingAndGlyphs" >NETWERK</text>
<text x="132.35" y="817.20" font-size="26.16" font-weight="bold" fill="#fff" textLength="77.00" lengthAdjust="spacingAndGlyphs" >POSITIEVE</text>
<text x="132.80" y="817.20" font-size="26.16" font-weight="bold" fill="#fff" textLength="77.00" lengthAdjust="spacingAndGlyphs" >POSITIEVE</text>
<text x="133.25" y="817.20" font-size="26.16" font-weight="bold" fill="#fff" textLength="77.00" lengthAdjust="spacingAndGlyphs" >POSITIEVE</text>
<text x="123.75" y="844.30" font-size="26.16" font-weight="bold" fill="#fff" textLength="95.50" lengthAdjust="spacingAndGlyphs" >GEZONDHEID</text>
<text x="124.20" y="844.30" font-size="26.16" font-weight="bold" fill="#fff" textLength="95.50" lengthAdjust="spacingAndGlyphs" >GEZONDHEID</text>
<text x="124.65" y="844.30" font-size="26.16" font-weight="bold" fill="#fff" textLength="95.50" lengthAdjust="spacingAndGlyphs" >GEZONDHEID</text>
<text x="992.95" y="849.80" font-size="26.16" font-weight="bold" fill="#fff" textLength="53.50" lengthAdjust="spacingAndGlyphs" >VANUIT</text>
<text x="993.40" y="849.80" font-size="26.16" font-weight="bold" fill="#fff" textLength="53.50" lengthAdjust="spacingAndGlyphs" >VANUIT</text>
<text x="993.85" y="849.80" font-size="26.16" font-weight="bold" fill="#fff" textLength="53.50" lengthAdjust="spacingAndGlyphs" >VANUIT</text>
<text x="968.05" y="876.80" font-size="26.16" font-weight="bold" fill="#fff" textLength="102.90" lengthAdjust="spacingAndGlyphs" >OPLOSSINGEN</text>
<text x="968.50" y="876.80" font-size="26.16" font-weight="bold" fill="#fff" textLength="102.90" lengthAdjust="spacingAndGlyphs" >OPLOSSINGEN</text>
<text x="968.95" y="876.80" font-size="26.16" font-weight="bold" fill="#fff" textLength="102.90" lengthAdjust="spacingAndGlyphs" >OPLOSSINGEN</text>
<text x="989.15" y="903.80" font-size="26.16" font-weight="bold" fill="#fff" textLength="61.20" lengthAdjust="spacingAndGlyphs" >DENKEN</text>
<text x="989.60" y="903.80" font-size="26.16" font-weight="bold" fill="#fff" textLength="61.20" lengthAdjust="spacingAndGlyphs" >DENKEN</text>
<text x="990.05" y="903.80" font-size="26.16" font-weight="bold" fill="#fff" textLength="61.20" lengthAdjust="spacingAndGlyphs" >DENKEN</text>
<g transform="translate(156.6,14.9) rotate(-3.7)">
<g transform="translate(22.3,40.9) rotate(0) scale(0.458)">
<polygon points="-1.2,0 93.6,-61.6 123.5,-61.6 28.6,0" fill="url(#gRoofB)"/>
<polygon points="28.6,0 123.5,-61.6 217.9,0" fill="url(#gRoofF)"/>
<rect x="36.9" y="-0.3" width="143.2" height="45.6" fill="url(#gBody)"/>
<rect x="36.9" y="-0.3" width="28.3" height="45.6" fill="url(#gDoor)"/>
<rect x="36.9" y="51.1" width="28.3" height="29" fill="url(#gYP)"/>
<rect x="65.2" y="51.1" width="114.9" height="29" fill="url(#gYP)"/>
</g>
<g transform="translate(22.3,39.6) scale(0.4943)">
<linearGradient id="gOP4" x1="69" x2="153" y1="0" y2="0" gradientUnits="userSpaceOnUse"><stop offset="0" stop-color="#e9b85e"/><stop offset="0.4" stop-color="#e8806a"/><stop offset="1" stop-color="#e5406b"/></linearGradient>
<rect x="102.4" y="-9.1" width="55.4" height="9.8" rx="1.5" fill="url(#gOP4)"/>
<text x="108.80" y="0.50" font-size="14.53" font-weight="bold" fill="#fff" textLength="51.30" lengthAdjust="spacingAndGlyphs" stroke="#fff" stroke-width="0.5">SAMEN</text>
<rect x="69.2" y="8.9" width="88.6" height="9.8" rx="1.5" fill="url(#gOP4)"/>
<text x="75.90" y="18.50" font-size="14.53" font-weight="bold" fill="#fff" textLength="84.20" lengthAdjust="spacingAndGlyphs" stroke="#fff" stroke-width="0.5">MAKEN WIJ</text>
<rect x="84.9" y="26.7" width="72.9" height="9.8" rx="1.5" fill="url(#gOP4)"/>
<text x="91.30" y="36.30" font-size="14.53" font-weight="bold" fill="#fff" textLength="68.80" lengthAdjust="spacingAndGlyphs" stroke="#fff" stroke-width="0.5">DE BUURT</text>
</g>
</g>
<rect x="37.5" y="937" width="639.5" height="246" rx="36" fill="#0a0830" opacity="0.35" filter="url(#fBlur3)"/>
<rect x="35.5" y="933.2" width="639.5" height="245.6" rx="36" fill="url(#gBoxO)"/>
<rect x="64.2" y="950" width="588.8" height="222" rx="17" fill="#404050" opacity="0.45" filter="url(#fBlur3)"/>
<rect x="61.2" y="945.3" width="588.8" height="222" rx="17" fill="url(#gYPv)"/>
<rect x="69.8" y="950.6" width="572.0" height="211.6" rx="10" fill="url(#gBoxI)"/>
<text x="84.85" y="989.20" font-size="36.63" font-weight="bold" fill="#23204f" textLength="77.70" lengthAdjust="spacingAndGlyphs" >WAAR?</text>
<text x="85.40" y="989.20" font-size="36.63" font-weight="bold" fill="#23204f" textLength="77.70" lengthAdjust="spacingAndGlyphs" >WAAR?</text>
<text x="85.95" y="989.20" font-size="36.63" font-weight="bold" fill="#23204f" textLength="77.70" lengthAdjust="spacingAndGlyphs" >WAAR?</text>
<text x="168.32" y="989.20" font-size="25.58" font-weight="normal" fill="#23204f" textLength="386.90" lengthAdjust="spacingAndGlyphs" >Gemeente Alphen aan den Rijn, daar waar nodig.</text>
<text x="168.70" y="989.20" font-size="25.58" font-weight="normal" fill="#23204f" textLength="386.90" lengthAdjust="spacingAndGlyphs" >Gemeente Alphen aan den Rijn, daar waar nodig.</text>
<text x="169.08" y="989.20" font-size="25.58" font-weight="normal" fill="#23204f" textLength="386.90" lengthAdjust="spacingAndGlyphs" >Gemeente Alphen aan den Rijn, daar waar nodig.</text>
<text x="84.85" y="1027.60" font-size="36.63" font-weight="bold" fill="#23204f" textLength="56.90" lengthAdjust="spacingAndGlyphs" >HOE?</text>
<text x="85.40" y="1027.60" font-size="36.63" font-weight="bold" fill="#23204f" textLength="56.90" lengthAdjust="spacingAndGlyphs" >HOE?</text>
<text x="85.95" y="1027.60" font-size="36.63" font-weight="bold" fill="#23204f" textLength="56.90" lengthAdjust="spacingAndGlyphs" >HOE?</text>
<text x="147.52" y="1027.60" font-size="25.58" font-weight="normal" fill="#23204f" textLength="446.20" lengthAdjust="spacingAndGlyphs" >Knelpunten vroegtijdig signaleren met gericht aanbod en</text>
<text x="147.90" y="1027.60" font-size="25.58" font-weight="normal" fill="#23204f" textLength="446.20" lengthAdjust="spacingAndGlyphs" >Knelpunten vroegtijdig signaleren met gericht aanbod en</text>
<text x="148.28" y="1027.60" font-size="25.58" font-weight="normal" fill="#23204f" textLength="446.20" lengthAdjust="spacingAndGlyphs" >Knelpunten vroegtijdig signaleren met gericht aanbod en</text>
<text x="85.02" y="1066.00" font-size="25.58" font-weight="normal" fill="#23204f" textLength="265.20" lengthAdjust="spacingAndGlyphs" >door in de buurt aanwezig te zijn.</text>
<text x="85.40" y="1066.00" font-size="25.58" font-weight="normal" fill="#23204f" textLength="265.20" lengthAdjust="spacingAndGlyphs" >door in de buurt aanwezig te zijn.</text>
<text x="85.78" y="1066.00" font-size="25.58" font-weight="normal" fill="#23204f" textLength="265.20" lengthAdjust="spacingAndGlyphs" >door in de buurt aanwezig te zijn.</text>
<text x="84.85" y="1105.00" font-size="36.63" font-weight="bold" fill="#23204f" textLength="52.90" lengthAdjust="spacingAndGlyphs" >WIE?</text>
<text x="85.40" y="1105.00" font-size="36.63" font-weight="bold" fill="#23204f" textLength="52.90" lengthAdjust="spacingAndGlyphs" >WIE?</text>
<text x="85.95" y="1105.00" font-size="36.63" font-weight="bold" fill="#23204f" textLength="52.90" lengthAdjust="spacingAndGlyphs" >WIE?</text>
<text x="144.02" y="1105.00" font-size="25.58" font-weight="normal" fill="#23204f" textLength="479.70" lengthAdjust="spacingAndGlyphs" >Vele vrijwilligers en professionals (zoals opvoedondersteuners</text>
<text x="144.40" y="1105.00" font-size="25.58" font-weight="normal" fill="#23204f" textLength="479.70" lengthAdjust="spacingAndGlyphs" >Vele vrijwilligers en professionals (zoals opvoedondersteuners</text>
<text x="144.78" y="1105.00" font-size="25.58" font-weight="normal" fill="#23204f" textLength="479.70" lengthAdjust="spacingAndGlyphs" >Vele vrijwilligers en professionals (zoals opvoedondersteuners</text>
<text x="85.02" y="1143.50" font-size="25.58" font-weight="normal" fill="#23204f" textLength="534.20" lengthAdjust="spacingAndGlyphs" >KomErbij, jongerenwerkers-plus, gezinsbegeleiders, ouderenadviseurs).</text>
<text x="85.40" y="1143.50" font-size="25.58" font-weight="normal" fill="#23204f" textLength="534.20" lengthAdjust="spacingAndGlyphs" >KomErbij, jongerenwerkers-plus, gezinsbegeleiders, ouderenadviseurs).</text>
<text x="85.78" y="1143.50" font-size="25.58" font-weight="normal" fill="#23204f" textLength="534.20" lengthAdjust="spacingAndGlyphs" >KomErbij, jongerenwerkers-plus, gezinsbegeleiders, ouderenadviseurs).</text>
<rect x="724.5" y="937" width="640.0" height="246" rx="36" fill="#0a0830" opacity="0.35" filter="url(#fBlur3)"/>
<rect x="722.5" y="933.2" width="640.0" height="245.6" rx="36" fill="url(#gBoxO)"/>
<rect x="750.5" y="950" width="588.5" height="222" rx="17" fill="#404050" opacity="0.45" filter="url(#fBlur3)"/>
<rect x="747.5" y="945.3" width="588.5" height="222" rx="17" fill="url(#gYPv)"/>
<rect x="756.1" y="950.6" width="571.7" height="211.6" rx="10" fill="url(#gBoxI)"/>
<text x="767.65" y="990.00" font-size="36.63" font-weight="bold" fill="#23204f" textLength="77.60" lengthAdjust="spacingAndGlyphs" >WAAR?</text>
<text x="768.20" y="990.00" font-size="36.63" font-weight="bold" fill="#23204f" textLength="77.60" lengthAdjust="spacingAndGlyphs" >WAAR?</text>
<text x="768.75" y="990.00" font-size="36.63" font-weight="bold" fill="#23204f" textLength="77.60" lengthAdjust="spacingAndGlyphs" >WAAR?</text>
<text x="851.52" y="990.00" font-size="25.58" font-weight="normal" fill="#23204f" textLength="251.20" lengthAdjust="spacingAndGlyphs" >Vanuit buurthuizen, in de buurt.</text>
<text x="851.90" y="990.00" font-size="25.58" font-weight="normal" fill="#23204f" textLength="251.20" lengthAdjust="spacingAndGlyphs" >Vanuit buurthuizen, in de buurt.</text>
<text x="852.28" y="990.00" font-size="25.58" font-weight="normal" fill="#23204f" textLength="251.20" lengthAdjust="spacingAndGlyphs" >Vanuit buurthuizen, in de buurt.</text>
<text x="767.65" y="1029.00" font-size="36.63" font-weight="bold" fill="#23204f" textLength="56.60" lengthAdjust="spacingAndGlyphs" >HOE?</text>
<text x="768.20" y="1029.00" font-size="36.63" font-weight="bold" fill="#23204f" textLength="56.60" lengthAdjust="spacingAndGlyphs" >HOE?</text>
<text x="768.75" y="1029.00" font-size="36.63" font-weight="bold" fill="#23204f" textLength="56.60" lengthAdjust="spacingAndGlyphs" >HOE?</text>
<text x="831.52" y="1029.00" font-size="25.58" font-weight="normal" fill="#23204f" textLength="473.70" lengthAdjust="spacingAndGlyphs" >Stimuleren en versterken bewonersinitiatieven, verenigingen</text>
<text x="831.90" y="1029.00" font-size="25.58" font-weight="normal" fill="#23204f" textLength="473.70" lengthAdjust="spacingAndGlyphs" >Stimuleren en versterken bewonersinitiatieven, verenigingen</text>
<text x="832.28" y="1029.00" font-size="25.58" font-weight="normal" fill="#23204f" textLength="473.70" lengthAdjust="spacingAndGlyphs" >Stimuleren en versterken bewonersinitiatieven, verenigingen</text>
<text x="768.02" y="1067.50" font-size="25.58" font-weight="normal" fill="#23204f" textLength="214.70" lengthAdjust="spacingAndGlyphs" >en vrijwilligersorganisaties.</text>
<text x="768.40" y="1067.50" font-size="25.58" font-weight="normal" fill="#23204f" textLength="214.70" lengthAdjust="spacingAndGlyphs" >en vrijwilligersorganisaties.</text>
<text x="768.78" y="1067.50" font-size="25.58" font-weight="normal" fill="#23204f" textLength="214.70" lengthAdjust="spacingAndGlyphs" >en vrijwilligersorganisaties.</text>
<text x="767.65" y="1106.00" font-size="36.63" font-weight="bold" fill="#23204f" textLength="54.10" lengthAdjust="spacingAndGlyphs" >WIE?</text>
<text x="768.20" y="1106.00" font-size="36.63" font-weight="bold" fill="#23204f" textLength="54.10" lengthAdjust="spacingAndGlyphs" >WIE?</text>
<text x="768.75" y="1106.00" font-size="36.63" font-weight="bold" fill="#23204f" textLength="54.10" lengthAdjust="spacingAndGlyphs" >WIE?</text>
<text x="827.52" y="1106.00" font-size="25.58" font-weight="normal" fill="#23204f" textLength="433.70" lengthAdjust="spacingAndGlyphs" >Beheerders buurthuizen, buurtverbinders, buurtsport- en</text>
<text x="827.90" y="1106.00" font-size="25.58" font-weight="normal" fill="#23204f" textLength="433.70" lengthAdjust="spacingAndGlyphs" >Beheerders buurthuizen, buurtverbinders, buurtsport- en</text>
<text x="828.28" y="1106.00" font-size="25.58" font-weight="normal" fill="#23204f" textLength="433.70" lengthAdjust="spacingAndGlyphs" >Beheerders buurthuizen, buurtverbinders, buurtsport- en</text>
<text x="768.02" y="1145.00" font-size="25.58" font-weight="normal" fill="#23204f" textLength="524.70" lengthAdjust="spacingAndGlyphs" >cultuurcoaches, kinder- en jongerenwerkers, samen met vrijwilligers.</text>
<text x="768.40" y="1145.00" font-size="25.58" font-weight="normal" fill="#23204f" textLength="524.70" lengthAdjust="spacingAndGlyphs" >cultuurcoaches, kinder- en jongerenwerkers, samen met vrijwilligers.</text>
<text x="768.78" y="1145.00" font-size="25.58" font-weight="normal" fill="#23204f" textLength="524.70" lengthAdjust="spacingAndGlyphs" >cultuurcoaches, kinder- en jongerenwerkers, samen met vrijwilligers.</text>
<g transform="translate(1097.9,834.25) rotate(4.7) scale(1.485)">
<polygon points="-1.2,0 93.6,-61.6 123.5,-61.6 28.6,0" fill="url(#gRoofB)"/>
<polygon points="28.6,0 123.5,-61.6 217.9,0" fill="url(#gRoofF)"/>
<rect x="36.9" y="-0.3" width="143.2" height="45.6" fill="url(#gBody)"/>
<rect x="36.9" y="-0.3" width="28.3" height="45.6" fill="url(#gDoor)"/>
<rect x="36.9" y="45" width="143.2" height="6.1" fill="#1e1b56"/>
<rect x="36.9" y="51.1" width="28.3" height="29" fill="url(#gYP)"/>
<rect x="65.2" y="51.1" width="114.9" height="29" fill="url(#gYP)"/>
</g>
<g transform="translate(1097.9,834.25) rotate(4.7)">
<polygon points="83.5,-18.6 265,-18.6 265,-3.2 90.5,-3.2" fill="url(#gOP)"/>
<rect x="194" y="-0.2" width="71" height="17" fill="#e8506b"/>
<text x="92.90" y="-3.60" font-size="21.22" font-weight="bold" fill="#fff" textLength="174.00" lengthAdjust="spacingAndGlyphs" >VRIJWILLIGERS</text>
<text x="205.00" y="16.50" font-size="20.06" font-weight="bold" fill="#fff" textLength="62.30" lengthAdjust="spacingAndGlyphs" >PUNT</text>
<text x="161.50" y="92.60" font-size="19.77" font-weight="bold" fill="#fff" textLength="97.00" lengthAdjust="spacingAndGlyphs" >informatie</text>
<text x="177.50" y="109.50" font-size="19.77" font-weight="bold" fill="#fff" textLength="81.00" lengthAdjust="spacingAndGlyphs" >&amp; advies</text>
</g>
</g>
</svg>
</body></html>
